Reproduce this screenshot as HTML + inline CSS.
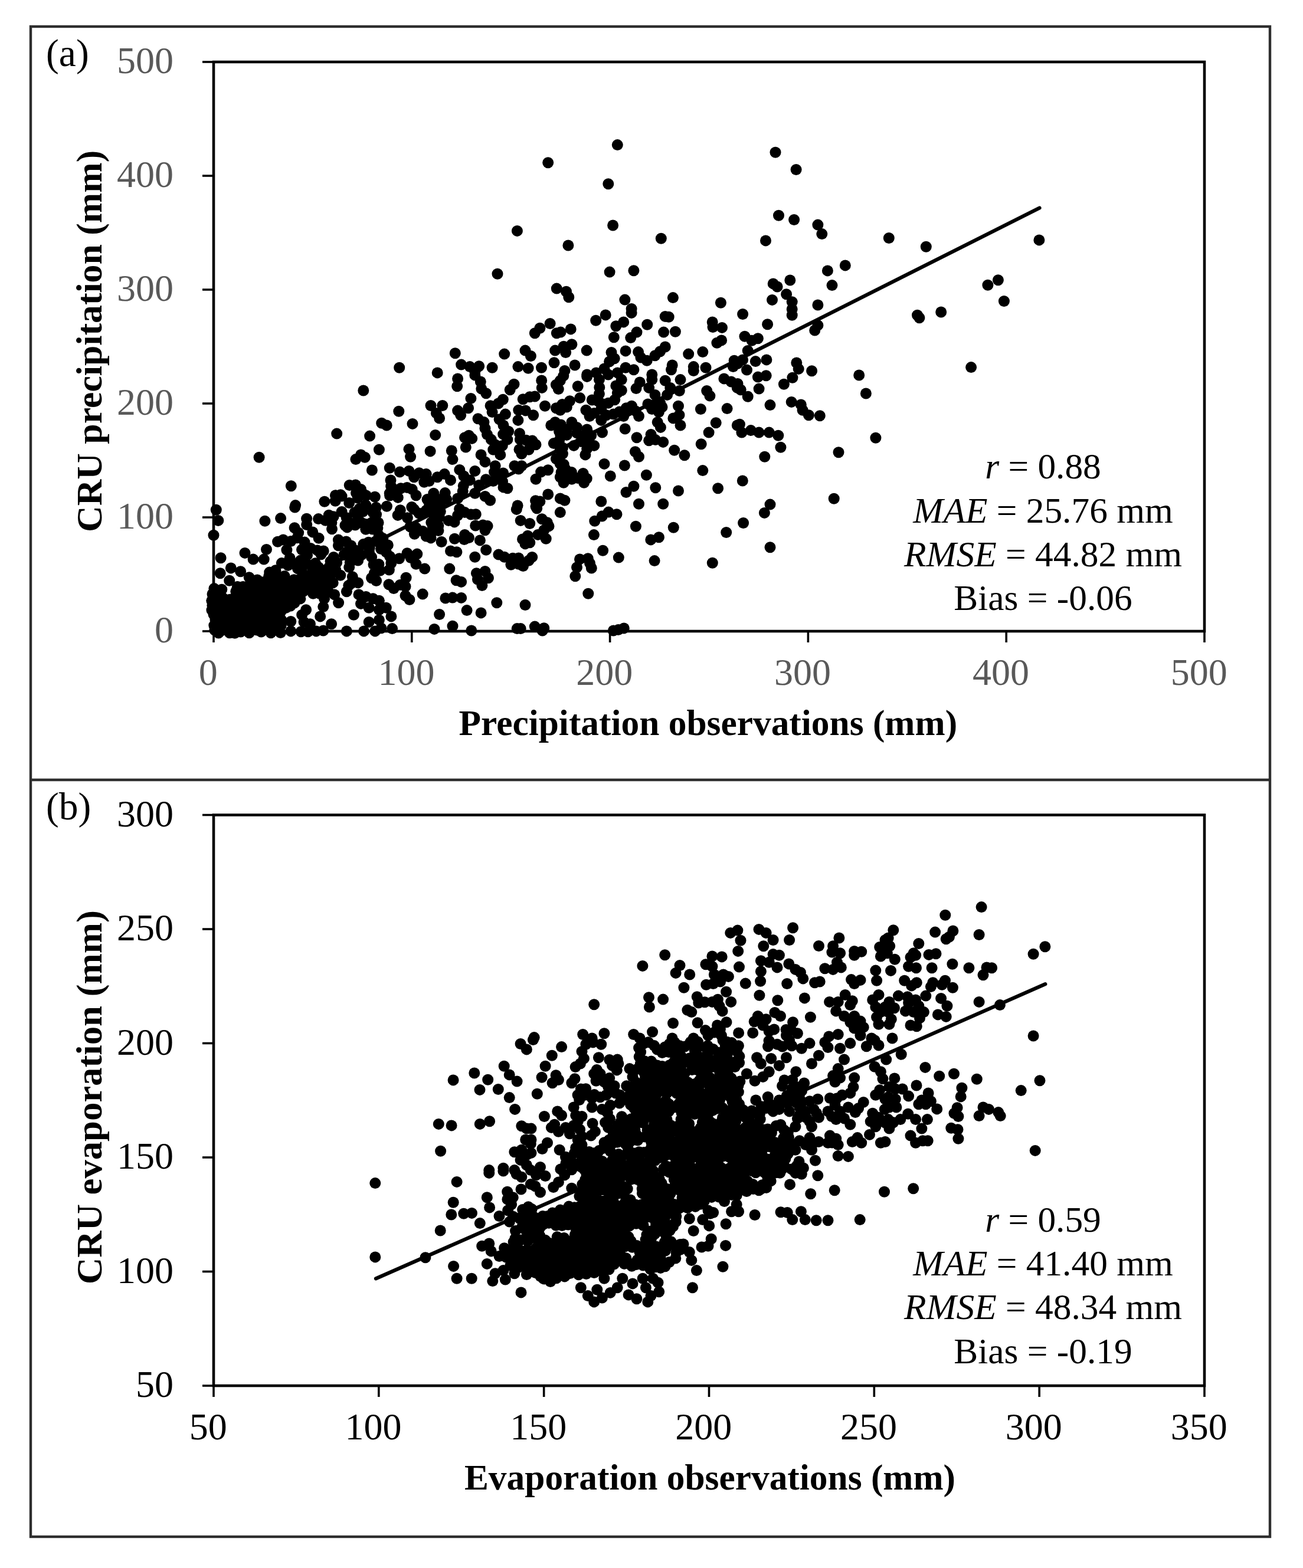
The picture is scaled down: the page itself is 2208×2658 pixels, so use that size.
<!DOCTYPE html>
<html lang="en"><head><meta charset="utf-8"><title>CRU precipitation and evaporation versus observations</title>
<style>html,body{margin:0;padding:0;background:#fff}body{width:2208px;height:2658px;overflow:hidden}svg{display:block}text{font-family:"Liberation Serif", "DejaVu Serif", serif}</style>
</head><body>
<svg width="2208" height="2658" viewBox="0 0 2208 2658">
<rect x="0" y="0" width="2208" height="2658" fill="#fff"/>
<g fill="none" stroke="#2e2e2e" stroke-width="4.4">
<rect x="52" y="45" width="2100" height="2560"/>
<line x1="52" y1="1322" x2="2152" y2="1322"/>
</g>
<g id="panel-a">
<g fill="#000">
<circle cx="366.3" cy="864.3" r="9.5"/><circle cx="369.8" cy="882.4" r="9.5"/><circle cx="362" cy="907.3" r="9.5"/><circle cx="448.9" cy="883.2" r="9.5"/><circle cx="475.6" cy="878.6" r="9.5"/><circle cx="499.7" cy="860" r="9.5"/><circle cx="374.1" cy="945.7" r="9.5"/><circle cx="373.2" cy="971.8" r="9.5"/><circle cx="391.3" cy="962.9" r="9.5"/><circle cx="407.6" cy="968.7" r="9.5"/><circle cx="388.7" cy="984.2" r="9.5"/><circle cx="415" cy="937.4" r="9.5"/><circle cx="429.1" cy="948.1" r="9.5"/><circle cx="451.5" cy="931.4" r="9.5"/><circle cx="447.2" cy="948.1" r="9.5"/><circle cx="422.2" cy="978.7" r="9.5"/><circle cx="436" cy="983" r="9.5"/><circle cx="479.9" cy="915" r="9.5"/><circle cx="492.8" cy="917.6" r="9.5"/><circle cx="485.9" cy="932.2" r="9.5"/><circle cx="491.1" cy="946" r="9.5"/><circle cx="477.3" cy="954.6" r="9.5"/><circle cx="497.9" cy="956.3" r="9.5"/><circle cx="456.7" cy="970.1" r="9.5"/><circle cx="467" cy="966.7" r="9.5"/><circle cx="544.4" cy="997.6" r="9.5"/><circle cx="530.6" cy="1006.2" r="9.5"/><circle cx="556.4" cy="1002.8" r="9.5"/><circle cx="566.7" cy="1007.9" r="9.5"/><circle cx="549.5" cy="1014.8" r="9.5"/><circle cx="573.6" cy="1021.7" r="9.5"/><circle cx="547.8" cy="1028.6" r="9.5"/><circle cx="590.8" cy="992.5" r="9.5"/><circle cx="587.4" cy="1002.8" r="9.5"/><circle cx="608" cy="1007.9" r="9.5"/><circle cx="620.1" cy="1011.4" r="9.5"/><circle cx="632.1" cy="1014.8" r="9.5"/><circle cx="642.4" cy="1018.3" r="9.5"/><circle cx="611.5" cy="1023.4" r="9.5"/><circle cx="625.2" cy="1030.3" r="9.5"/><circle cx="642.4" cy="1033.7" r="9.5"/><circle cx="599.4" cy="1042.3" r="9.5"/><circle cx="625.2" cy="1054.4" r="9.5"/><circle cx="642.4" cy="1050.9" r="9.5"/><circle cx="518.6" cy="1033.7" r="9.5"/><circle cx="511.7" cy="1042.3" r="9.5"/><circle cx="542.7" cy="1044.9" r="9.5"/><circle cx="492.8" cy="1053.5" r="9.5"/><circle cx="515.1" cy="1054.4" r="9.5"/><circle cx="525.5" cy="1057.8" r="9.5"/><circle cx="561.6" cy="1057.8" r="9.5"/><circle cx="492.8" cy="1069.9" r="9.5"/><circle cx="510" cy="1070.7" r="9.5"/><circle cx="522" cy="1070.7" r="9.5"/><circle cx="535.8" cy="1069.9" r="9.5"/><circle cx="547.8" cy="1069" r="9.5"/><circle cx="587.4" cy="1069.9" r="9.5"/><circle cx="616.6" cy="1069.9" r="9.5"/><circle cx="635.6" cy="1069.9" r="9.5"/><circle cx="645.9" cy="1064.7" r="9.5"/><circle cx="362.9" cy="997.6" r="9.5"/><circle cx="375.8" cy="999.3" r="9.5"/><circle cx="401.6" cy="999.3" r="9.5"/><circle cx="664.6" cy="1065.6" r="9.5"/><circle cx="736" cy="1066.4" r="9.5"/><circle cx="767" cy="1061.3" r="9.5"/><circle cx="798.8" cy="1069" r="9.5"/><circle cx="876.2" cy="1065.6" r="9.5"/><circle cx="882.2" cy="1065.6" r="9.5"/><circle cx="906.3" cy="1062.1" r="9.5"/><circle cx="921.8" cy="1064.7" r="9.5"/><circle cx="919.2" cy="1069" r="9.5"/><circle cx="744.6" cy="1041.5" r="9.5"/><circle cx="791.1" cy="1034.6" r="9.5"/><circle cx="815.1" cy="1038.9" r="9.5"/><circle cx="841.8" cy="1021.7" r="9.5"/><circle cx="890" cy="1025.5" r="9.5"/><circle cx="754.9" cy="1014" r="9.5"/><circle cx="767" cy="1013.1" r="9.5"/><circle cx="781.6" cy="1013.4" r="9.5"/><circle cx="716.2" cy="1007.1" r="9.5"/><circle cx="667.2" cy="997.6" r="9.5"/><circle cx="687" cy="994.2" r="9.5"/><circle cx="687" cy="1009.7" r="9.5"/><circle cx="693.9" cy="1016.5" r="9.5"/><circle cx="654.3" cy="1030.3" r="9.5"/><circle cx="662.9" cy="1044.9" r="9.5"/><circle cx="781.6" cy="986.4" r="9.5"/><circle cx="816.9" cy="992.5" r="9.5"/><circle cx="807.4" cy="971.8" r="9.5"/><circle cx="822" cy="968.4" r="9.5"/><circle cx="761.8" cy="964.1" r="9.5"/><circle cx="719.7" cy="964.1" r="9.5"/><circle cx="804.8" cy="944.3" r="9.5"/><circle cx="823.7" cy="932.2" r="9.5"/><circle cx="813.4" cy="915.9" r="9.5"/><circle cx="805.7" cy="891" r="9.5"/><circle cx="822" cy="898.7" r="9.5"/><circle cx="763.5" cy="934" r="9.5"/><circle cx="773.9" cy="935.7" r="9.5"/><circle cx="770.4" cy="913.3" r="9.5"/><circle cx="787.6" cy="906.4" r="9.5"/><circle cx="794.5" cy="911.6" r="9.5"/><circle cx="748.1" cy="918.5" r="9.5"/><circle cx="742.9" cy="899.6" r="9.5"/><circle cx="722.2" cy="909" r="9.5"/><circle cx="732.6" cy="901.3" r="9.5"/><circle cx="706.8" cy="939.1" r="9.5"/><circle cx="705" cy="956.3" r="9.5"/><circle cx="705" cy="894.4" r="9.5"/><circle cx="710.2" cy="870.3" r="9.5"/><circle cx="722.2" cy="865.2" r="9.5"/><circle cx="736" cy="875.5" r="9.5"/><circle cx="746.3" cy="866.9" r="9.5"/><circle cx="760.1" cy="882.4" r="9.5"/><circle cx="775.6" cy="873.8" r="9.5"/><circle cx="787.6" cy="868.6" r="9.5"/><circle cx="797.9" cy="872" r="9.5"/><circle cx="730.8" cy="885.8" r="9.5"/><circle cx="742.9" cy="891" r="9.5"/><circle cx="701.6" cy="863.4" r="9.5"/><circle cx="854.7" cy="944.3" r="9.5"/><circle cx="865.9" cy="957.2" r="9.5"/><circle cx="878.8" cy="946" r="9.5"/><circle cx="878.8" cy="956.3" r="9.5"/><circle cx="896" cy="950.3" r="9.5"/><circle cx="875.3" cy="863.4" r="9.5"/><circle cx="909.7" cy="861.7" r="9.5"/><circle cx="918.3" cy="879.8" r="9.5"/><circle cx="882.2" cy="882.4" r="9.5"/><circle cx="897.7" cy="887.5" r="9.5"/><circle cx="921.8" cy="898.7" r="9.5"/><circle cx="894.3" cy="908.2" r="9.5"/><circle cx="911.5" cy="906.4" r="9.5"/><circle cx="925.2" cy="913.3" r="9.5"/><circle cx="890" cy="921.9" r="9.5"/><circle cx="949.3" cy="868.6" r="9.5"/><circle cx="615.8" cy="662" r="9.5"/><circle cx="646.7" cy="717.2" r="9.5"/><circle cx="570.7" cy="735.1" r="9.5"/><circle cx="626.6" cy="739.1" r="9.5"/><circle cx="642.4" cy="762.3" r="9.5"/><circle cx="602.9" cy="778.6" r="9.5"/><circle cx="611.5" cy="770.9" r="9.5"/><circle cx="618.3" cy="775.2" r="9.5"/><circle cx="439.1" cy="775.2" r="9.5"/><circle cx="630.4" cy="797" r="9.5"/><circle cx="493.3" cy="823.7" r="9.5"/><circle cx="592.2" cy="822.5" r="9.5"/><circle cx="611.5" cy="829.4" r="9.5"/><circle cx="616.6" cy="838" r="9.5"/><circle cx="568.5" cy="839.7" r="9.5"/><circle cx="577.1" cy="838.8" r="9.5"/><circle cx="775.6" cy="641.9" r="9.5"/><circle cx="774.7" cy="654.8" r="9.5"/><circle cx="804.8" cy="635.9" r="9.5"/><circle cx="814.3" cy="647" r="9.5"/><circle cx="823.7" cy="666.8" r="9.5"/><circle cx="871" cy="651.3" r="9.5"/><circle cx="864.2" cy="660.8" r="9.5"/><circle cx="918.3" cy="657.4" r="9.5"/><circle cx="942.4" cy="652.2" r="9.5"/><circle cx="949.3" cy="645.3" r="9.5"/><circle cx="897.7" cy="672.8" r="9.5"/><circle cx="906.3" cy="672" r="9.5"/><circle cx="923.5" cy="688.3" r="9.5"/><circle cx="942.4" cy="691.8" r="9.5"/><circle cx="949.3" cy="695.2" r="9.5"/><circle cx="797.9" cy="675.4" r="9.5"/><circle cx="793.6" cy="691.8" r="9.5"/><circle cx="775.6" cy="696.1" r="9.5"/><circle cx="780.7" cy="703.8" r="9.5"/><circle cx="730" cy="687.5" r="9.5"/><circle cx="749.8" cy="687.5" r="9.5"/><circle cx="739.4" cy="700.4" r="9.5"/><circle cx="744.6" cy="709" r="9.5"/><circle cx="675.8" cy="697.3" r="9.5"/><circle cx="699" cy="718.4" r="9.5"/><circle cx="655.2" cy="721" r="9.5"/><circle cx="844.4" cy="684" r="9.5"/><circle cx="834.1" cy="698.6" r="9.5"/><circle cx="856.4" cy="702.1" r="9.5"/><circle cx="846.1" cy="710.7" r="9.5"/><circle cx="878.8" cy="695.2" r="9.5"/><circle cx="877.9" cy="712.4" r="9.5"/><circle cx="903.7" cy="703.8" r="9.5"/><circle cx="810" cy="709.8" r="9.5"/><circle cx="822" cy="726.2" r="9.5"/><circle cx="825.5" cy="736.5" r="9.5"/><circle cx="832.3" cy="745.1" r="9.5"/><circle cx="839.2" cy="753.7" r="9.5"/><circle cx="853" cy="721" r="9.5"/><circle cx="861.6" cy="731.3" r="9.5"/><circle cx="859.9" cy="745.1" r="9.5"/><circle cx="851.3" cy="755.4" r="9.5"/><circle cx="880.5" cy="734.8" r="9.5"/><circle cx="881.4" cy="745.1" r="9.5"/><circle cx="737.7" cy="737.4" r="9.5"/><circle cx="787.6" cy="741.7" r="9.5"/><circle cx="799.7" cy="743.4" r="9.5"/><circle cx="794.5" cy="738.2" r="9.5"/><circle cx="789.3" cy="758" r="9.5"/><circle cx="693" cy="761.4" r="9.5"/><circle cx="695.6" cy="774.3" r="9.5"/><circle cx="729.1" cy="764.9" r="9.5"/><circle cx="765.3" cy="764" r="9.5"/><circle cx="767" cy="778.6" r="9.5"/><circle cx="815.1" cy="770.9" r="9.5"/><circle cx="822" cy="782.9" r="9.5"/><circle cx="835.8" cy="762.3" r="9.5"/><circle cx="847.8" cy="770.9" r="9.5"/><circle cx="839.2" cy="789.8" r="9.5"/><circle cx="908" cy="753.7" r="9.5"/><circle cx="896" cy="762.3" r="9.5"/><circle cx="883.9" cy="769.2" r="9.5"/><circle cx="940.7" cy="715.8" r="9.5"/><circle cx="933.8" cy="721" r="9.5"/><circle cx="947.6" cy="731.3" r="9.5"/><circle cx="947.6" cy="746.8" r="9.5"/><circle cx="949.3" cy="762.3" r="9.5"/><circle cx="942.4" cy="777.8" r="9.5"/><circle cx="949.3" cy="786.4" r="9.5"/><circle cx="871.9" cy="789.8" r="9.5"/><circle cx="883.9" cy="789.8" r="9.5"/><circle cx="878.8" cy="795" r="9.5"/><circle cx="928.7" cy="796.7" r="9.5"/><circle cx="916.6" cy="800.1" r="9.5"/><circle cx="908" cy="812.2" r="9.5"/><circle cx="949.3" cy="808.7" r="9.5"/><circle cx="660.3" cy="793.3" r="9.5"/><circle cx="677.5" cy="800.1" r="9.5"/><circle cx="693" cy="798.4" r="9.5"/><circle cx="662" cy="813.9" r="9.5"/><circle cx="701.6" cy="808.7" r="9.5"/><circle cx="722.2" cy="803.6" r="9.5"/><circle cx="718.8" cy="817.3" r="9.5"/><circle cx="741.2" cy="808.7" r="9.5"/><circle cx="753.2" cy="803.6" r="9.5"/><circle cx="763.5" cy="813.9" r="9.5"/><circle cx="785.9" cy="807" r="9.5"/><circle cx="804.8" cy="798.4" r="9.5"/><circle cx="796.2" cy="813.9" r="9.5"/><circle cx="811.7" cy="822.5" r="9.5"/><circle cx="837.5" cy="800.1" r="9.5"/><circle cx="835.8" cy="815.6" r="9.5"/><circle cx="846.1" cy="807" r="9.5"/><circle cx="853" cy="825.9" r="9.5"/><circle cx="859.9" cy="827.7" r="9.5"/><circle cx="660.3" cy="836.3" r="9.5"/><circle cx="679.2" cy="827.7" r="9.5"/><circle cx="698.2" cy="829.4" r="9.5"/><circle cx="705" cy="839.7" r="9.5"/><circle cx="724" cy="846.6" r="9.5"/><circle cx="739.4" cy="844.9" r="9.5"/><circle cx="756.7" cy="846.6" r="9.5"/><circle cx="727.4" cy="856.9" r="9.5"/><circle cx="746.3" cy="856.9" r="9.5"/><circle cx="784.2" cy="832.8" r="9.5"/><circle cx="775.6" cy="844.9" r="9.5"/><circle cx="804.8" cy="836.3" r="9.5"/><circle cx="822" cy="841.4" r="9.5"/><circle cx="830.6" cy="848.3" r="9.5"/><circle cx="877.1" cy="856.9" r="9.5"/><circle cx="928.7" cy="838" r="9.5"/><circle cx="914.9" cy="850" r="9.5"/><circle cx="908" cy="858.6" r="9.5"/><circle cx="949.3" cy="844.9" r="9.5"/><circle cx="1197.7" cy="662.5" r="9.5"/><circle cx="1202.9" cy="671.1" r="9.5"/><circle cx="1226.9" cy="641.9" r="9.5"/><circle cx="1239" cy="647" r="9.5"/><circle cx="1249.3" cy="657.4" r="9.5"/><circle cx="1187.4" cy="693.5" r="9.5"/><circle cx="1232.1" cy="692.6" r="9.5"/><circle cx="1149.5" cy="688.3" r="9.5"/><circle cx="1140.9" cy="709" r="9.5"/><circle cx="1153" cy="721" r="9.5"/><circle cx="1213.2" cy="716.7" r="9.5"/><circle cx="1201.1" cy="733.1" r="9.5"/><circle cx="1188.2" cy="752.8" r="9.5"/><circle cx="1249.3" cy="721" r="9.5"/><circle cx="1119.4" cy="724.4" r="9.5"/><circle cx="1103.1" cy="736.5" r="9.5"/><circle cx="1099.7" cy="746.8" r="9.5"/><circle cx="1123.7" cy="749.4" r="9.5"/><circle cx="1142.7" cy="763.2" r="9.5"/><circle cx="1159.9" cy="771.8" r="9.5"/><circle cx="1059.2" cy="727" r="9.5"/><circle cx="1079" cy="741.7" r="9.5"/><circle cx="1076.4" cy="765.7" r="9.5"/><circle cx="1082.5" cy="774.3" r="9.5"/><circle cx="1024" cy="786.4" r="9.5"/><circle cx="1058.4" cy="789" r="9.5"/><circle cx="1034.3" cy="807" r="9.5"/><circle cx="1095.4" cy="805.3" r="9.5"/><circle cx="1190.8" cy="797.6" r="9.5"/><circle cx="1110.8" cy="826.8" r="9.5"/><circle cx="1149.5" cy="832" r="9.5"/><circle cx="1216.6" cy="827.7" r="9.5"/><circle cx="1073.9" cy="824.2" r="9.5"/><circle cx="1061" cy="834.5" r="9.5"/><circle cx="1018.8" cy="850" r="9.5"/><circle cx="1082.5" cy="854.3" r="9.5"/><circle cx="1123.7" cy="854.3" r="9.5"/><circle cx="956.9" cy="848.3" r="9.5"/><circle cx="953.4" cy="808.7" r="9.5"/><circle cx="968.9" cy="812.2" r="9.5"/><circle cx="979.2" cy="810.5" r="9.5"/><circle cx="989.6" cy="818.2" r="9.5"/><circle cx="955.2" cy="787.2" r="9.5"/><circle cx="953.4" cy="769.2" r="9.5"/><circle cx="1084.2" cy="647.9" r="9.5"/><circle cx="979.2" cy="654.8" r="9.5"/><circle cx="994.7" cy="638.4" r="9.5"/><circle cx="1015.4" cy="643.6" r="9.5"/><circle cx="1030.8" cy="635" r="9.5"/><circle cx="1043.8" cy="653.9" r="9.5"/><circle cx="1053.2" cy="643.6" r="9.5"/><circle cx="1046.3" cy="666" r="9.5"/><circle cx="1015.4" cy="667.7" r="9.5"/><circle cx="1003.3" cy="678" r="9.5"/><circle cx="982.7" cy="674.6" r="9.5"/><circle cx="965.5" cy="679.7" r="9.5"/><circle cx="960.3" cy="690" r="9.5"/><circle cx="1030.8" cy="683.2" r="9.5"/><circle cx="1018.8" cy="693.5" r="9.5"/><circle cx="1006.8" cy="700.4" r="9.5"/><circle cx="993" cy="695.2" r="9.5"/><circle cx="1027.4" cy="703.8" r="9.5"/><circle cx="1039.4" cy="702.1" r="9.5"/><circle cx="1018.8" cy="712.4" r="9.5"/><circle cx="1056.7" cy="705.5" r="9.5"/><circle cx="1070.4" cy="688.3" r="9.5"/><circle cx="1082.5" cy="705.5" r="9.5"/><circle cx="1077.3" cy="696.9" r="9.5"/><circle cx="1097.9" cy="684.9" r="9.5"/><circle cx="1104.8" cy="693.5" r="9.5"/><circle cx="1099.7" cy="657.4" r="9.5"/><circle cx="1104.8" cy="643.6" r="9.5"/><circle cx="1110" cy="669.4" r="9.5"/><circle cx="1118.6" cy="683.2" r="9.5"/><circle cx="1122" cy="690" r="9.5"/><circle cx="1127.2" cy="645.3" r="9.5"/><circle cx="1135.8" cy="657.4" r="9.5"/><circle cx="1130.6" cy="669.4" r="9.5"/><circle cx="1153" cy="643.6" r="9.5"/><circle cx="1151.3" cy="662.5" r="9.5"/><circle cx="968.9" cy="715.8" r="9.5"/><circle cx="977.5" cy="724.4" r="9.5"/><circle cx="960.3" cy="727.9" r="9.5"/><circle cx="994.7" cy="727.9" r="9.5"/><circle cx="1001.6" cy="738.2" r="9.5"/><circle cx="1020.5" cy="733.1" r="9.5"/><circle cx="984.4" cy="748.5" r="9.5"/><circle cx="994.7" cy="760.6" r="9.5"/><circle cx="1006.8" cy="755.4" r="9.5"/><circle cx="972.4" cy="755.4" r="9.5"/><circle cx="950" cy="738.2" r="9.5"/><circle cx="953.4" cy="758.9" r="9.5"/><circle cx="843" cy="464.2" r="9.5"/><circle cx="943.3" cy="489.1" r="9.5"/><circle cx="932.1" cy="548.5" r="9.5"/><circle cx="914.9" cy="556.2" r="9.5"/><circle cx="906.3" cy="564.8" r="9.5"/><circle cx="943.3" cy="564.8" r="9.5"/><circle cx="771.3" cy="598.7" r="9.5"/><circle cx="854.7" cy="600.1" r="9.5"/><circle cx="890" cy="594.1" r="9.5"/><circle cx="899.4" cy="603.5" r="9.5"/><circle cx="940.7" cy="594.1" r="9.5"/><circle cx="939" cy="614.7" r="9.5"/><circle cx="676.7" cy="623.3" r="9.5"/><circle cx="741.2" cy="631.9" r="9.5"/><circle cx="781.6" cy="618.1" r="9.5"/><circle cx="796.2" cy="621.6" r="9.5"/><circle cx="811.7" cy="620.7" r="9.5"/><circle cx="804.8" cy="630.2" r="9.5"/><circle cx="834.1" cy="623.3" r="9.5"/><circle cx="877.9" cy="621.6" r="9.5"/><circle cx="895.1" cy="624.2" r="9.5"/><circle cx="917.5" cy="623.3" r="9.5"/><circle cx="962.9" cy="416" r="9.5"/><circle cx="1033.1" cy="461.1" r="9.5"/><circle cx="1073.9" cy="458.7" r="9.5"/><circle cx="959.5" cy="494.3" r="9.5"/><circle cx="963.8" cy="503.8" r="9.5"/><circle cx="1058.9" cy="508.1" r="9.5"/><circle cx="1070.1" cy="523.5" r="9.5"/><circle cx="1070.1" cy="530.4" r="9.5"/><circle cx="1140.4" cy="504.6" r="9.5"/><circle cx="1221.4" cy="513.2" r="9.5"/><circle cx="1026.2" cy="533.9" r="9.5"/><circle cx="1009.7" cy="543.3" r="9.5"/><circle cx="1056.7" cy="545.9" r="9.5"/><circle cx="1043.8" cy="552.8" r="9.5"/><circle cx="1127.2" cy="536.4" r="9.5"/><circle cx="1133.2" cy="537.3" r="9.5"/><circle cx="1096.7" cy="550.2" r="9.5"/><circle cx="1124.6" cy="563.1" r="9.5"/><circle cx="1144.4" cy="562.2" r="9.5"/><circle cx="1207.2" cy="545.9" r="9.5"/><circle cx="1208" cy="554.5" r="9.5"/><circle cx="1223.5" cy="555.4" r="9.5"/><circle cx="967.2" cy="557.9" r="9.5"/><circle cx="1040.3" cy="571.7" r="9.5"/><circle cx="1079" cy="563.1" r="9.5"/><circle cx="1068.7" cy="572.6" r="9.5"/><circle cx="1222.6" cy="576.9" r="9.5"/><circle cx="1214.9" cy="581.2" r="9.5"/><circle cx="950" cy="563.1" r="9.5"/><circle cx="955.2" cy="587.2" r="9.5"/><circle cx="968.9" cy="583.7" r="9.5"/><circle cx="958.6" cy="597.5" r="9.5"/><circle cx="994.2" cy="594.1" r="9.5"/><circle cx="1060.1" cy="594.9" r="9.5"/><circle cx="1036" cy="597.5" r="9.5"/><circle cx="1041.2" cy="607.8" r="9.5"/><circle cx="1032.6" cy="613" r="9.5"/><circle cx="1081.6" cy="596.6" r="9.5"/><circle cx="1085.9" cy="606.1" r="9.5"/><circle cx="1096.2" cy="611.3" r="9.5"/><circle cx="1127.2" cy="588" r="9.5"/><circle cx="1118.6" cy="595.8" r="9.5"/><circle cx="1110" cy="602.7" r="9.5"/><circle cx="1166.7" cy="600.1" r="9.5"/><circle cx="1190.8" cy="596.6" r="9.5"/><circle cx="974.1" cy="619" r="9.5"/><circle cx="956.9" cy="628.5" r="9.5"/><circle cx="1010.2" cy="631.9" r="9.5"/><circle cx="1024" cy="625" r="9.5"/><circle cx="994.7" cy="635" r="9.5"/><circle cx="1060.1" cy="623.3" r="9.5"/><circle cx="1073.9" cy="626.7" r="9.5"/><circle cx="1046.3" cy="631.9" r="9.5"/><circle cx="1104.8" cy="635" r="9.5"/><circle cx="1139.2" cy="619" r="9.5"/><circle cx="1137.5" cy="626.7" r="9.5"/><circle cx="1175.3" cy="621.6" r="9.5"/><circle cx="1175.3" cy="628.5" r="9.5"/><circle cx="1196" cy="623.3" r="9.5"/><circle cx="1244.2" cy="611.3" r="9.5"/><circle cx="1250" cy="616.4" r="9.5"/><circle cx="1242.4" cy="621.6" r="9.5"/><circle cx="1045" cy="871.7" r="9.5"/><circle cx="1031.2" cy="868.1" r="9.5"/><circle cx="1020.2" cy="875" r="9.5"/><circle cx="1007.8" cy="883.2" r="9.5"/><circle cx="1006.4" cy="906.6" r="9.5"/><circle cx="1077.4" cy="892.3" r="9.5"/><circle cx="1141.3" cy="894.2" r="9.5"/><circle cx="1116.5" cy="910.7" r="9.5"/><circle cx="1102.8" cy="914.9" r="9.5"/><circle cx="1230.7" cy="902.5" r="9.5"/><circle cx="1259.6" cy="886.5" r="9.5"/><circle cx="1295.4" cy="869.4" r="9.5"/><circle cx="1305" cy="855.1" r="9.5"/><circle cx="1305" cy="927.8" r="9.5"/><circle cx="1021.6" cy="933.3" r="9.5"/><circle cx="1048.3" cy="945.1" r="9.5"/><circle cx="1109.1" cy="950.6" r="9.5"/><circle cx="1207.3" cy="954.2" r="9.5"/><circle cx="982.5" cy="947.9" r="9.5"/><circle cx="977.5" cy="961.7" r="9.5"/><circle cx="974.8" cy="976.8" r="9.5"/><circle cx="999.5" cy="954.8" r="9.5"/><circle cx="1002.3" cy="963" r="9.5"/><circle cx="996.8" cy="1006.2" r="9.5"/><circle cx="1039.4" cy="1069" r="9.5"/><circle cx="1047.7" cy="1067.6" r="9.5"/><circle cx="1057.3" cy="1064.9" r="9.5"/><circle cx="1413.2" cy="845.2" r="9.5"/><circle cx="1258.3" cy="815" r="9.5"/><circle cx="1467.4" cy="667" r="9.5"/><circle cx="1455.7" cy="636" r="9.5"/><circle cx="1342.9" cy="640.2" r="9.5"/><circle cx="1328.4" cy="651.2" r="9.5"/><circle cx="1284.4" cy="639.1" r="9.5"/><circle cx="1298.2" cy="636.7" r="9.5"/><circle cx="1286.1" cy="659.1" r="9.5"/><circle cx="1250" cy="650.5" r="9.5"/><circle cx="1255.2" cy="660.8" r="9.5"/><circle cx="1267.2" cy="672.2" r="9.5"/><circle cx="1305" cy="686.6" r="9.5"/><circle cx="1341.2" cy="681.4" r="9.5"/><circle cx="1357.3" cy="685.9" r="9.5"/><circle cx="1360.1" cy="695.2" r="9.5"/><circle cx="1370.4" cy="703.8" r="9.5"/><circle cx="1389.3" cy="704.8" r="9.5"/><circle cx="1253.4" cy="719.3" r="9.5"/><circle cx="1256.9" cy="733.1" r="9.5"/><circle cx="1272.4" cy="729.6" r="9.5"/><circle cx="1286.1" cy="733.1" r="9.5"/><circle cx="1303.3" cy="733.1" r="9.5"/><circle cx="1318.8" cy="738.2" r="9.5"/><circle cx="1322.9" cy="758.2" r="9.5"/><circle cx="1295.8" cy="774.3" r="9.5"/><circle cx="1421" cy="766.8" r="9.5"/><circle cx="1483.9" cy="742.3" r="9.5"/><circle cx="1314" cy="258.3" r="9.5"/><circle cx="1349.1" cy="287.5" r="9.5"/><circle cx="1319.5" cy="365.3" r="9.5"/><circle cx="1345.6" cy="372.5" r="9.5"/><circle cx="1385.9" cy="381.1" r="9.5"/><circle cx="1392.8" cy="396.6" r="9.5"/><circle cx="1297.5" cy="407.9" r="9.5"/><circle cx="1506.3" cy="403.5" r="9.5"/><circle cx="1569.3" cy="418.3" r="9.5"/><circle cx="1760.9" cy="406.9" r="9.5"/><circle cx="1432.3" cy="449.9" r="9.5"/><circle cx="1402.4" cy="458.9" r="9.5"/><circle cx="1410" cy="483.6" r="9.5"/><circle cx="1338.8" cy="475" r="9.5"/><circle cx="1310.2" cy="480.9" r="9.5"/><circle cx="1317.1" cy="486" r="9.5"/><circle cx="1332.6" cy="498.8" r="9.5"/><circle cx="1308.5" cy="508.4" r="9.5"/><circle cx="1342.2" cy="511.8" r="9.5"/><circle cx="1342.2" cy="523.9" r="9.5"/><circle cx="1342.2" cy="534.2" r="9.5"/><circle cx="1385.9" cy="517" r="9.5"/><circle cx="1691.4" cy="474.7" r="9.5"/><circle cx="1673.9" cy="483.3" r="9.5"/><circle cx="1701.4" cy="510.5" r="9.5"/><circle cx="1594.7" cy="529" r="9.5"/><circle cx="1554.5" cy="534.2" r="9.5"/><circle cx="1557.9" cy="538.7" r="9.5"/><circle cx="1258.6" cy="532.5" r="9.5"/><circle cx="1300.6" cy="549.7" r="9.5"/><circle cx="1385.9" cy="551.4" r="9.5"/><circle cx="1380.7" cy="560" r="9.5"/><circle cx="1262" cy="570.3" r="9.5"/><circle cx="1284.4" cy="573.8" r="9.5"/><circle cx="1274.1" cy="577.2" r="9.5"/><circle cx="1267.2" cy="594.4" r="9.5"/><circle cx="1280.3" cy="612.6" r="9.5"/><circle cx="1298.9" cy="609.9" r="9.5"/><circle cx="1349.8" cy="615" r="9.5"/><circle cx="1353.2" cy="625.4" r="9.5"/><circle cx="1375.6" cy="628.8" r="9.5"/><circle cx="1645.6" cy="622.6" r="9.5"/><circle cx="1258.6" cy="609.9" r="9.5"/><circle cx="1265.5" cy="627.1" r="9.5"/><circle cx="1046.3" cy="245.6" r="9.5"/><circle cx="1030.8" cy="311.8" r="9.5"/><circle cx="1038.6" cy="382" r="9.5"/><circle cx="1120.3" cy="404.3" r="9.5"/><circle cx="928.7" cy="275.8" r="9.5"/><circle cx="876.4" cy="391.4" r="9.5"/><circle cx="500.6" cy="856.6" r="9.5"/><circle cx="549.9" cy="850.3" r="9.5"/><circle cx="568.8" cy="840" r="9.5"/><circle cx="579.1" cy="841.1" r="9.5"/><circle cx="591.7" cy="852.6" r="9.5"/><circle cx="619.8" cy="856.1" r="9.5"/><circle cx="620.4" cy="840" r="9.5"/><circle cx="635.3" cy="842.3" r="9.5"/><circle cx="655.4" cy="858.3" r="9.5"/><circle cx="660.6" cy="840" r="9.5"/><circle cx="674.3" cy="843.4" r="9.5"/><circle cx="678.3" cy="864.7" r="9.5"/><circle cx="697.8" cy="859.5" r="9.5"/><circle cx="690.4" cy="877.8" r="9.5"/><circle cx="695" cy="892.8" r="9.5"/><circle cx="539.6" cy="879.6" r="9.5"/><circle cx="557.3" cy="873.3" r="9.5"/><circle cx="561.9" cy="885.9" r="9.5"/><circle cx="519.7" cy="889.5" r="9.5"/><circle cx="579.1" cy="867.5" r="9.5"/><circle cx="587.2" cy="877.8" r="9.5"/><circle cx="584.9" cy="890.5" r="9.5"/><circle cx="600.9" cy="868.7" r="9.5"/><circle cx="606.7" cy="881.3" r="9.5"/><circle cx="618.1" cy="888.2" r="9.5"/><circle cx="637.6" cy="872.1" r="9.5"/><circle cx="641.1" cy="885.9" r="9.5"/><circle cx="614.7" cy="867.5" r="9.5"/><circle cx="631.9" cy="868.7" r="9.5"/><circle cx="612.4" cy="885.9" r="9.5"/><circle cx="629.6" cy="885.9" r="9.5"/><circle cx="562.5" cy="896.8" r="9.5"/><circle cx="588.3" cy="893.9" r="9.5"/><circle cx="619.8" cy="897.3" r="9.5"/><circle cx="639.9" cy="895" r="9.5"/><circle cx="642.2" cy="907.7" r="9.5"/><circle cx="647.9" cy="919.1" r="9.5"/><circle cx="645.6" cy="930.6" r="9.5"/><circle cx="505.7" cy="903.1" r="9.5"/><circle cx="529.8" cy="901.9" r="9.5"/><circle cx="540.1" cy="912.2" r="9.5"/><circle cx="516.1" cy="919.1" r="9.5"/><circle cx="511.5" cy="931.7" r="9.5"/><circle cx="526.4" cy="929.4" r="9.5"/><circle cx="520.6" cy="940.9" r="9.5"/><circle cx="573.4" cy="915.1" r="9.5"/><circle cx="586.6" cy="918" r="9.5"/><circle cx="615.8" cy="922.6" r="9.5"/><circle cx="548.2" cy="934" r="9.5"/><circle cx="537.8" cy="932.9" r="9.5"/><circle cx="565.4" cy="944.4" r="9.5"/><circle cx="588.3" cy="935.2" r="9.5"/><circle cx="600.9" cy="936.3" r="9.5"/><circle cx="612.4" cy="940.9" r="9.5"/><circle cx="594" cy="946.7" r="9.5"/><circle cx="606.7" cy="950.1" r="9.5"/><circle cx="629.6" cy="944.4" r="9.5"/><circle cx="633" cy="957" r="9.5"/><circle cx="660.6" cy="943.2" r="9.5"/><circle cx="662.8" cy="954.7" r="9.5"/><circle cx="676.6" cy="946.7" r="9.5"/><circle cx="696.1" cy="945.5" r="9.5"/><circle cx="659.4" cy="966.1" r="9.5"/><circle cx="688.1" cy="979.3" r="9.5"/><circle cx="634.2" cy="971.9" r="9.5"/><circle cx="637.6" cy="984.5" r="9.5"/><circle cx="591.7" cy="961.6" r="9.5"/><circle cx="595.2" cy="989.1" r="9.5"/><circle cx="606.7" cy="987.9" r="9.5"/><circle cx="557.3" cy="961.6" r="9.5"/><circle cx="568.8" cy="966.1" r="9.5"/><circle cx="576.8" cy="975.3" r="9.5"/><circle cx="559.6" cy="975.3" r="9.5"/><circle cx="549.3" cy="969.6" r="9.5"/><circle cx="534.4" cy="954.7" r="9.5"/><circle cx="529.8" cy="966.1" r="9.5"/><circle cx="509.2" cy="950.1" r="9.5"/><circle cx="504.6" cy="963.9" r="9.5"/><circle cx="511.5" cy="968.4" r="9.5"/><circle cx="509.2" cy="981.1" r="9.5"/><circle cx="532.1" cy="987.9" r="9.5"/><circle cx="545.9" cy="983.3" r="9.5"/><circle cx="564.2" cy="987.9" r="9.5"/><circle cx="504.7" cy="988.9" r="9.5"/><circle cx="514.7" cy="975.3" r="9.5"/><circle cx="529" cy="973.6" r="9.5"/><circle cx="536.1" cy="971.2" r="9.5"/><circle cx="550.3" cy="966.9" r="9.5"/><circle cx="560.8" cy="959.2" r="9.5"/><circle cx="570.6" cy="953.7" r="9.5"/><circle cx="583.1" cy="940.4" r="9.5"/><circle cx="593.5" cy="945.3" r="9.5"/><circle cx="604.8" cy="933.4" r="9.5"/><circle cx="624.5" cy="919.3" r="9.5"/><circle cx="636.8" cy="917.4" r="9.5"/><circle cx="648.9" cy="912.6" r="9.5"/><circle cx="470.6" cy="918.3" r="9.5"/><circle cx="503.8" cy="911.8" r="9.5"/><circle cx="488" cy="958.4" r="9.5"/><circle cx="541.7" cy="1006.3" r="9.5"/><circle cx="551.8" cy="995" r="9.5"/><circle cx="658.9" cy="990.7" r="9.5"/><circle cx="678" cy="991.5" r="9.5"/><circle cx="773.1" cy="983.7" r="9.5"/><circle cx="809.5" cy="982.3" r="9.5"/><circle cx="827.5" cy="979.7" r="9.5"/><circle cx="818.4" cy="889.9" r="9.5"/><circle cx="826.1" cy="891.6" r="9.5"/><circle cx="786.7" cy="914.5" r="9.5"/><circle cx="716.3" cy="900.4" r="9.5"/><circle cx="730.1" cy="911.9" r="9.5"/><circle cx="702.4" cy="905.3" r="9.5"/><circle cx="744.4" cy="876.5" r="9.5"/><circle cx="770" cy="884.9" r="9.5"/><circle cx="778.6" cy="862.7" r="9.5"/><circle cx="806.3" cy="871.7" r="9.5"/><circle cx="733.4" cy="894.1" r="9.5"/><circle cx="844.9" cy="940.1" r="9.5"/><circle cx="869" cy="946.2" r="9.5"/><circle cx="886.5" cy="959.6" r="9.5"/><circle cx="901.7" cy="944.4" r="9.5"/><circle cx="927.3" cy="885.8" r="9.5"/><circle cx="930" cy="891.9" r="9.5"/><circle cx="897.8" cy="919.8" r="9.5"/><circle cx="885.5" cy="914" r="9.5"/><circle cx="602.5" cy="822" r="9.5"/><circle cx="603.5" cy="835.7" r="9.5"/><circle cx="606.3" cy="844.3" r="9.5"/><circle cx="815.8" cy="659" r="9.5"/><circle cx="917.7" cy="644.9" r="9.5"/><circle cx="946.3" cy="659.6" r="9.5"/><circle cx="954.8" cy="637.1" r="9.5"/><circle cx="886.2" cy="676.8" r="9.5"/><circle cx="952.8" cy="685.4" r="9.5"/><circle cx="852.3" cy="677.3" r="9.5"/><circle cx="831.1" cy="687.8" r="9.5"/><circle cx="890.5" cy="695.9" r="9.5"/><circle cx="820" cy="715.6" r="9.5"/><circle cx="852.7" cy="736.1" r="9.5"/><circle cx="891.6" cy="746.2" r="9.5"/><circle cx="902" cy="747.1" r="9.5"/><circle cx="880" cy="761.9" r="9.5"/><circle cx="950.4" cy="719.9" r="9.5"/><circle cx="938.3" cy="751.6" r="9.5"/><circle cx="951.1" cy="800.7" r="9.5"/><circle cx="710.3" cy="801.8" r="9.5"/><circle cx="727.2" cy="815.6" r="9.5"/><circle cx="778.8" cy="796.4" r="9.5"/><circle cx="823.4" cy="812.8" r="9.5"/><circle cx="852.7" cy="801.9" r="9.5"/><circle cx="851.5" cy="816.2" r="9.5"/><circle cx="662.7" cy="824.2" r="9.5"/><circle cx="689.7" cy="826.4" r="9.5"/><circle cx="734.8" cy="836.3" r="9.5"/><circle cx="754.2" cy="835.6" r="9.5"/><circle cx="734.6" cy="861.1" r="9.5"/><circle cx="785.3" cy="823.6" r="9.5"/><circle cx="907.5" cy="848.8" r="9.5"/><circle cx="1151" cy="703.4" r="9.5"/><circle cx="1114.2" cy="715.7" r="9.5"/><circle cx="1110.7" cy="745.6" r="9.5"/><circle cx="955.1" cy="818.2" r="9.5"/><circle cx="968.4" cy="800.5" r="9.5"/><circle cx="988.1" cy="802.5" r="9.5"/><circle cx="994.2" cy="811.2" r="9.5"/><circle cx="958.3" cy="795.4" r="9.5"/><circle cx="1078" cy="658.6" r="9.5"/><circle cx="1053.3" cy="661.8" r="9.5"/><circle cx="1015.8" cy="656.7" r="9.5"/><circle cx="1013.9" cy="680.3" r="9.5"/><circle cx="1041.7" cy="677.8" r="9.5"/><circle cx="1022.4" cy="685.1" r="9.5"/><circle cx="999" cy="705.6" r="9.5"/><circle cx="1049.5" cy="698.1" r="9.5"/><circle cx="1061.2" cy="691.8" r="9.5"/><circle cx="1116.4" cy="698.6" r="9.5"/><circle cx="1108.7" cy="686" r="9.5"/><circle cx="977.7" cy="734.1" r="9.5"/><circle cx="960.4" cy="737.4" r="9.5"/><circle cx="990.3" cy="739.3" r="9.5"/><circle cx="991.9" cy="770.9" r="9.5"/><circle cx="997.1" cy="747.8" r="9.5"/><circle cx="996.3" cy="946.7" r="9.5"/><circle cx="568.2" cy="849.2" r="9.5"/><circle cx="670" cy="835.6" r="9.5"/><circle cx="674.1" cy="873.4" r="9.5"/><circle cx="551.5" cy="882.3" r="9.5"/><circle cx="565.1" cy="875.7" r="9.5"/><circle cx="519.6" cy="879.3" r="9.5"/><circle cx="609.2" cy="862.3" r="9.5"/><circle cx="637.3" cy="860.3" r="9.5"/><circle cx="601.9" cy="890.1" r="9.5"/><circle cx="592.2" cy="885.8" r="9.5"/><circle cx="631.1" cy="897.1" r="9.5"/><circle cx="657.3" cy="923.9" r="9.5"/><circle cx="654.3" cy="935.8" r="9.5"/><circle cx="499.1" cy="894.8" r="9.5"/><circle cx="518.5" cy="930.9" r="9.5"/><circle cx="573.4" cy="924.7" r="9.5"/><circle cx="594.9" cy="924.9" r="9.5"/><circle cx="544" cy="939.7" r="9.5"/><circle cx="625.4" cy="936.3" r="9.5"/><circle cx="641.9" cy="956.4" r="9.5"/><circle cx="690" cy="937.7" r="9.5"/><circle cx="644" cy="967.2" r="9.5"/><circle cx="629.6" cy="979.8" r="9.5"/><circle cx="597.3" cy="977.7" r="9.5"/><circle cx="560" cy="951.6" r="9.5"/><circle cx="552.9" cy="979.9" r="9.5"/><circle cx="519.9" cy="955.6" r="9.5"/><circle cx="527.2" cy="997.7" r="9.5"/><circle cx="498.1" cy="982.8" r="9.5"/><circle cx="522.8" cy="984.7" r="9.5"/><circle cx="540.2" cy="979.6" r="9.5"/><circle cx="539.7" cy="961.4" r="9.5"/><circle cx="593.3" cy="953.5" r="9.5"/><circle cx="626.2" cy="928.7" r="9.5"/><circle cx="419.8" cy="1021.1" r="9.5"/><circle cx="401.7" cy="1066.2" r="9.5"/><circle cx="435.8" cy="1003.6" r="9.5"/><circle cx="506.3" cy="1000.7" r="9.5"/><circle cx="406.6" cy="1039" r="9.5"/><circle cx="417.4" cy="1065.7" r="9.5"/><circle cx="464.6" cy="1024.9" r="9.5"/><circle cx="473.7" cy="1005.4" r="9.5"/><circle cx="449.3" cy="1020.9" r="9.5"/><circle cx="490" cy="1001.6" r="9.5"/><circle cx="498.2" cy="987.1" r="9.5"/><circle cx="428.6" cy="1056.1" r="9.5"/><circle cx="358.8" cy="1018.2" r="9.5"/><circle cx="476.5" cy="1050.5" r="9.5"/><circle cx="386.3" cy="1040.9" r="9.5"/><circle cx="362" cy="1041.5" r="9.5"/><circle cx="489.7" cy="1019.1" r="9.5"/><circle cx="391.2" cy="1030.7" r="9.5"/><circle cx="369.2" cy="1014.5" r="9.5"/><circle cx="446" cy="1036.6" r="9.5"/><circle cx="421.1" cy="1042.1" r="9.5"/><circle cx="470.8" cy="988" r="9.5"/><circle cx="498.9" cy="1022" r="9.5"/><circle cx="411.9" cy="994.4" r="9.5"/><circle cx="435.3" cy="1068.1" r="9.5"/><circle cx="479.4" cy="1015.4" r="9.5"/><circle cx="437.9" cy="1059.6" r="9.5"/><circle cx="456.5" cy="1061.7" r="9.5"/><circle cx="388.6" cy="1065.3" r="9.5"/><circle cx="399" cy="1020.3" r="9.5"/><circle cx="476.1" cy="1036.5" r="9.5"/><circle cx="394" cy="1053" r="9.5"/><circle cx="363.9" cy="1068.2" r="9.5"/><circle cx="468.2" cy="1068.2" r="9.5"/><circle cx="489.9" cy="986.7" r="9.5"/><circle cx="377.1" cy="1068.3" r="9.5"/><circle cx="514.3" cy="1002.3" r="9.5"/><circle cx="467.2" cy="1017" r="9.5"/><circle cx="423.9" cy="1004.4" r="9.5"/><circle cx="434.9" cy="1019.4" r="9.5"/><circle cx="443.2" cy="995.1" r="9.5"/><circle cx="377.7" cy="1013.6" r="9.5"/><circle cx="488.9" cy="1009.8" r="9.5"/><circle cx="448.4" cy="1058.6" r="9.5"/><circle cx="384" cy="1022.2" r="9.5"/><circle cx="410.5" cy="1025.3" r="9.5"/><circle cx="409.4" cy="1047.1" r="9.5"/><circle cx="466.9" cy="1049" r="9.5"/><circle cx="379.3" cy="1037.2" r="9.5"/><circle cx="508.9" cy="1014.9" r="9.5"/><circle cx="484.2" cy="1030.5" r="9.5"/><circle cx="372.6" cy="1044.4" r="9.5"/><circle cx="464.9" cy="1058.2" r="9.5"/><circle cx="430.1" cy="1029.7" r="9.5"/><circle cx="459.4" cy="988.5" r="9.5"/><circle cx="476.2" cy="1060.2" r="9.5"/><circle cx="460.5" cy="1009.3" r="9.5"/><circle cx="455.7" cy="976.7" r="9.5"/><circle cx="480.1" cy="988.1" r="9.5"/><circle cx="446.2" cy="986.7" r="9.5"/><circle cx="409.3" cy="1012.1" r="9.5"/><circle cx="419.8" cy="995" r="9.5"/><circle cx="452.2" cy="992.9" r="9.5"/><circle cx="413.2" cy="1032.8" r="9.5"/><circle cx="365" cy="1050.8" r="9.5"/><circle cx="469.9" cy="997.1" r="9.5"/><circle cx="442.6" cy="1071.1" r="9.5"/><circle cx="459" cy="1039.1" r="9.5"/><circle cx="393.7" cy="1044.4" r="9.5"/><circle cx="362.8" cy="1060.1" r="9.5"/><circle cx="374" cy="1031.8" r="9.5"/><circle cx="378.4" cy="1052.6" r="9.5"/><circle cx="366.9" cy="1023.4" r="9.5"/><circle cx="432.4" cy="1010.4" r="9.5"/><circle cx="406.9" cy="1057.3" r="9.5"/><circle cx="432.7" cy="993.1" r="9.5"/><circle cx="436.5" cy="1041.6" r="9.5"/><circle cx="449.3" cy="1066.9" r="9.5"/><circle cx="452.1" cy="1009.2" r="9.5"/><circle cx="419.8" cy="1058.3" r="9.5"/><circle cx="457" cy="1019.1" r="9.5"/><circle cx="479.8" cy="998.9" r="9.5"/><circle cx="454.6" cy="1053.5" r="9.5"/><circle cx="441.7" cy="1015.5" r="9.5"/><circle cx="384.9" cy="1058.2" r="9.5"/><circle cx="422.6" cy="1033.1" r="9.5"/><circle cx="473.9" cy="1022.5" r="9.5"/><circle cx="407.9" cy="1071.1" r="9.5"/><circle cx="402.4" cy="994.6" r="9.5"/><circle cx="373.7" cy="1007" r="9.5"/><circle cx="465.9" cy="976.3" r="9.5"/><circle cx="377" cy="1060.4" r="9.5"/><circle cx="418.2" cy="1012.1" r="9.5"/><circle cx="451.8" cy="1042.3" r="9.5"/><circle cx="410.1" cy="1001.8" r="9.5"/><circle cx="438" cy="1027.2" r="9.5"/><circle cx="500.9" cy="1014.4" r="9.5"/><circle cx="467.9" cy="1035.6" r="9.5"/><circle cx="440.4" cy="1050.2" r="9.5"/><circle cx="474.4" cy="977.7" r="9.5"/><circle cx="459.9" cy="1001.5" r="9.5"/><circle cx="403.7" cy="1029.2" r="9.5"/><circle cx="495.2" cy="995.1" r="9.5"/><circle cx="360" cy="1006.9" r="9.5"/><circle cx="515.2" cy="993.8" r="9.5"/><circle cx="425.2" cy="988.6" r="9.5"/><circle cx="359.9" cy="1026.5" r="9.5"/><circle cx="389.4" cy="1016.2" r="9.5"/><circle cx="448.5" cy="1028.6" r="9.5"/><circle cx="482.2" cy="976.6" r="9.5"/><circle cx="492.1" cy="1027.3" r="9.5"/><circle cx="358.9" cy="1034.1" r="9.5"/><circle cx="427.2" cy="1016.7" r="9.5"/><circle cx="459" cy="1072.7" r="9.5"/><circle cx="399.8" cy="1002.6" r="9.5"/><circle cx="397.9" cy="1073.2" r="9.5"/><circle cx="498.7" cy="1004.3" r="9.5"/><circle cx="456.4" cy="1027.4" r="9.5"/><circle cx="399.2" cy="1011.2" r="9.5"/><circle cx="416.8" cy="1048.6" r="9.5"/><circle cx="427.4" cy="1067" r="9.5"/><circle cx="398.6" cy="1035.8" r="9.5"/><circle cx="389.1" cy="1072.8" r="9.5"/><circle cx="401.4" cy="1046.4" r="9.5"/><circle cx="429.1" cy="1039.4" r="9.5"/><circle cx="422.4" cy="1072.7" r="9.5"/><circle cx="398.1" cy="1059.5" r="9.5"/><circle cx="446.4" cy="1002.7" r="9.5"/><circle cx="475.4" cy="1072.5" r="9.5"/><circle cx="381.8" cy="1029.4" r="9.5"/><circle cx="428.2" cy="1048" r="9.5"/><circle cx="375.8" cy="1021.4" r="9.5"/><circle cx="486.3" cy="995" r="9.5"/><circle cx="370.3" cy="1073" r="9.5"/>
</g>
<line x1="362" y1="1057" x2="1761.5" y2="352.5" stroke="#000" stroke-width="6.2" stroke-linecap="round"/>
<rect x="362" y="105" width="1679" height="965" fill="none" stroke="#000" stroke-width="4.6"/>
<g stroke="#000" stroke-width="3.6">
<line x1="343" y1="1070" x2="362" y2="1070"/>
<line x1="343" y1="877" x2="362" y2="877"/>
<line x1="343" y1="684" x2="362" y2="684"/>
<line x1="343" y1="491" x2="362" y2="491"/>
<line x1="343" y1="298" x2="362" y2="298"/>
<line x1="343" y1="105" x2="362" y2="105"/>
<line x1="362" y1="1070" x2="362" y2="1089"/>
<line x1="697.8" y1="1070" x2="697.8" y2="1089"/>
<line x1="1033.6" y1="1070" x2="1033.6" y2="1089"/>
<line x1="1369.4" y1="1070" x2="1369.4" y2="1089"/>
<line x1="1705.2" y1="1070" x2="1705.2" y2="1089"/>
<line x1="2041" y1="1070" x2="2041" y2="1089"/>
</g>
<g font-size="64" fill="#595959" text-anchor="end">
<text x="294" y="1089.1">0</text>
<text x="294" y="896.1">100</text>
<text x="294" y="703.1">200</text>
<text x="294" y="510.1">300</text>
<text x="294" y="317.1">400</text>
<text x="294" y="124.1">500</text>
</g>
<g font-size="64" fill="#595959" text-anchor="middle">
<text x="352.7" y="1160.6">0</text>
<text x="688.5" y="1160.6">100</text>
<text x="1024.3" y="1160.6">200</text>
<text x="1360.1" y="1160.6">300</text>
<text x="1695.9" y="1160.6">400</text>
<text x="2031.7" y="1160.6">500</text>
</g>
<text x="78" y="112.3" font-size="65.5" fill="#000">(a)</text>
<text x="1199.8" y="1246.3" font-size="61.4" font-weight="bold" fill="#000" text-anchor="middle">Precipitation observations (mm)</text>
<text transform="translate(172.3,578.3) rotate(-90) scale(1.0126,1)" font-size="61" font-weight="bold" fill="#000" text-anchor="middle">CRU precipitation (mm)</text>
<g font-size="61.4" fill="#000" text-anchor="middle">
<text x="1767.5" y="811.3"><tspan font-style="italic">r</tspan> = 0.88</text>
<text x="1767.5" y="885.6"><tspan font-style="italic">MAE</tspan> = 25.76 mm</text>
<text x="1767.5" y="959.9"><tspan font-style="italic">RMSE</tspan> = 44.82 mm</text>
<text x="1767.5" y="1034.2">Bias = -0.06</text>
</g>
</g>
<g id="panel-b">
<g fill="#000">
<circle cx="882.1" cy="1769.5" r="9.5"/><circle cx="892.4" cy="1778.9" r="9.5"/><circle cx="854.2" cy="1807.3" r="9.5"/><circle cx="863.2" cy="1821.9" r="9.5"/><circle cx="876.1" cy="1833.1" r="9.5"/><circle cx="803.8" cy="1819" r="9.5"/><circle cx="826.7" cy="1830.2" r="9.5"/><circle cx="768.1" cy="1830.9" r="9.5"/><circle cx="813" cy="1847.4" r="9.5"/><circle cx="844.3" cy="1846.5" r="9.5"/><circle cx="863.2" cy="1860.6" r="9.5"/><circle cx="872.6" cy="1880.4" r="9.5"/><circle cx="743.3" cy="1905.4" r="9.5"/><circle cx="765.1" cy="1907.9" r="9.5"/><circle cx="813.3" cy="1905.4" r="9.5"/><circle cx="829.6" cy="1900.7" r="9.5"/><circle cx="883.8" cy="1908.8" r="9.5"/><circle cx="892.4" cy="1913.1" r="9.5"/><circle cx="746.6" cy="1951.3" r="9.5"/><circle cx="890.7" cy="1932" r="9.5"/><circle cx="899.3" cy="1938.9" r="9.5"/><circle cx="871.8" cy="1952.7" r="9.5"/><circle cx="883.8" cy="1949.2" r="9.5"/><circle cx="892.4" cy="1957.8" r="9.5"/><circle cx="882.1" cy="1966.4" r="9.5"/><circle cx="892.4" cy="1975" r="9.5"/><circle cx="828.8" cy="1983.6" r="9.5"/><circle cx="852.9" cy="1980.2" r="9.5"/><circle cx="871.8" cy="1983.6" r="9.5"/><circle cx="899.3" cy="1983.6" r="9.5"/><circle cx="635.8" cy="2005.6" r="9.5"/><circle cx="635.8" cy="2130.9" r="9.5"/><circle cx="720.9" cy="2131.7" r="9.5"/><circle cx="774.1" cy="2003.4" r="9.5"/><circle cx="768.2" cy="2038.3" r="9.5"/><circle cx="764.8" cy="2059" r="9.5"/><circle cx="785.8" cy="2057.2" r="9.5"/><circle cx="799.5" cy="2056.4" r="9.5"/><circle cx="746.2" cy="2086" r="9.5"/><circle cx="813.3" cy="2073.6" r="9.5"/><circle cx="825.3" cy="2029.7" r="9.5"/><circle cx="829.6" cy="2046.9" r="9.5"/><circle cx="846" cy="2061.5" r="9.5"/><circle cx="859.7" cy="2020.3" r="9.5"/><circle cx="869.2" cy="2029.7" r="9.5"/><circle cx="866.6" cy="2041.8" r="9.5"/><circle cx="883" cy="2016" r="9.5"/><circle cx="828.8" cy="1988.4" r="9.5"/><circle cx="852.9" cy="1985" r="9.5"/><circle cx="875.2" cy="1990.2" r="9.5"/><circle cx="883.8" cy="1995.3" r="9.5"/><circle cx="899.3" cy="2007.4" r="9.5"/><circle cx="816.7" cy="2112.3" r="9.5"/><circle cx="828.8" cy="2108" r="9.5"/><circle cx="832.2" cy="2120.9" r="9.5"/><circle cx="768.6" cy="2146.4" r="9.5"/><circle cx="825.3" cy="2142.4" r="9.5"/><circle cx="774.1" cy="2167.3" r="9.5"/><circle cx="799.2" cy="2167.3" r="9.5"/><circle cx="883" cy="2190.9" r="9.5"/><circle cx="834.8" cy="2171.6" r="9.5"/><circle cx="839.1" cy="2158.7" r="9.5"/><circle cx="856.3" cy="2169.1" r="9.5"/><circle cx="852.9" cy="2153.6" r="9.5"/><circle cx="885.6" cy="2050.4" r="9.5"/><circle cx="895.9" cy="2053.8" r="9.5"/><circle cx="882.1" cy="2064.1" r="9.5"/><circle cx="892.4" cy="2071" r="9.5"/><circle cx="873.5" cy="2086.5" r="9.5"/><circle cx="883.8" cy="2081.3" r="9.5"/><circle cx="899.3" cy="2081.3" r="9.5"/><circle cx="870.1" cy="2105.4" r="9.5"/><circle cx="882.1" cy="2102" r="9.5"/><circle cx="894.2" cy="2103.7" r="9.5"/><circle cx="854.6" cy="2115.7" r="9.5"/><circle cx="864.9" cy="2119.2" r="9.5"/><circle cx="878.7" cy="2117.5" r="9.5"/><circle cx="892.4" cy="2119.2" r="9.5"/><circle cx="846" cy="2129.5" r="9.5"/><circle cx="858" cy="2131.2" r="9.5"/><circle cx="871.8" cy="2132.9" r="9.5"/><circle cx="885.6" cy="2134.7" r="9.5"/><circle cx="899.3" cy="2131.2" r="9.5"/><circle cx="864.9" cy="2145" r="9.5"/><circle cx="878.7" cy="2148.4" r="9.5"/><circle cx="892.4" cy="2150.1" r="9.5"/><circle cx="871.8" cy="2158.7" r="9.5"/><circle cx="892.4" cy="2160.5" r="9.5"/><circle cx="899.3" cy="2143.3" r="9.5"/><circle cx="908.6" cy="1991.9" r="9.5"/><circle cx="924.1" cy="1993.6" r="9.5"/><circle cx="906.9" cy="2010.8" r="9.5"/><circle cx="915.5" cy="2021.1" r="9.5"/><circle cx="937.8" cy="2012.5" r="9.5"/><circle cx="956.8" cy="1991.9" r="9.5"/><circle cx="946.4" cy="2003.9" r="9.5"/><circle cx="968.8" cy="2014.2" r="9.5"/><circle cx="984.3" cy="2182.8" r="9.5"/><circle cx="996.3" cy="2196.6" r="9.5"/><circle cx="1006.7" cy="2206.9" r="9.5"/><circle cx="1011.8" cy="2186.3" r="9.5"/><circle cx="1023.9" cy="2167.3" r="9.5"/><circle cx="1034.2" cy="2191.4" r="9.5"/><circle cx="1046.2" cy="2182.8" r="9.5"/><circle cx="1054.8" cy="2167.3" r="9.5"/><circle cx="1065.1" cy="2194.9" r="9.5"/><circle cx="1072" cy="2175.9" r="9.5"/><circle cx="1078.9" cy="2201.7" r="9.5"/><circle cx="1097.8" cy="2206.9" r="9.5"/><circle cx="1094.4" cy="2182.8" r="9.5"/><circle cx="1115" cy="2174.2" r="9.5"/><circle cx="1116.7" cy="2189.7" r="9.5"/><circle cx="1106.4" cy="2167.3" r="9.5"/><circle cx="1103" cy="2196.6" r="9.5"/><circle cx="1020.4" cy="2200" r="9.5"/><circle cx="1089.2" cy="2167.3" r="9.5"/><circle cx="910.3" cy="2157" r="9.5"/><circle cx="932.7" cy="2172.5" r="9.5"/><circle cx="920.6" cy="2167.3" r="9.5"/><circle cx="956.8" cy="2163.9" r="9.5"/><circle cx="944.7" cy="2162.2" r="9.5"/><circle cx="1168.3" cy="2065.8" r="9.5"/><circle cx="1190.7" cy="2067.6" r="9.5"/><circle cx="1175.2" cy="2086.5" r="9.5"/><circle cx="1200" cy="2052.1" r="9.5"/><circle cx="1168.3" cy="2122.6" r="9.5"/><circle cx="1171.8" cy="2136.4" r="9.5"/><circle cx="1180.4" cy="2153.6" r="9.5"/><circle cx="1173.5" cy="2182.8" r="9.5"/><circle cx="1127.1" cy="2146.7" r="9.5"/><circle cx="1189" cy="2114" r="9.5"/><circle cx="1158" cy="2108.9" r="9.5"/><circle cx="903.4" cy="1762.6" r="9.5"/><circle cx="951.6" cy="1774.6" r="9.5"/><circle cx="935.3" cy="1789.2" r="9.5"/><circle cx="924.1" cy="1807.3" r="9.5"/><circle cx="918.1" cy="1826.2" r="9.5"/><circle cx="942.1" cy="1822.8" r="9.5"/><circle cx="936.1" cy="1835.7" r="9.5"/><circle cx="946.4" cy="1830.5" r="9.5"/><circle cx="910.3" cy="1854.3" r="9.5"/><circle cx="1004.9" cy="1766.9" r="9.5"/><circle cx="992.9" cy="1770.3" r="9.5"/><circle cx="1018.7" cy="1770.3" r="9.5"/><circle cx="986" cy="1782.4" r="9.5"/><circle cx="989.4" cy="1794.4" r="9.5"/><circle cx="983.4" cy="1803" r="9.5"/><circle cx="1014.4" cy="1792.7" r="9.5"/><circle cx="1046.2" cy="1796.1" r="9.5"/><circle cx="1037.6" cy="1806.4" r="9.5"/><circle cx="1047.9" cy="1803" r="9.5"/><circle cx="974" cy="1828.8" r="9.5"/><circle cx="968.8" cy="1835.7" r="9.5"/><circle cx="1006.7" cy="1820.2" r="9.5"/><circle cx="1017" cy="1820.2" r="9.5"/><circle cx="1010.1" cy="1832.2" r="9.5"/><circle cx="1023.9" cy="1834" r="9.5"/><circle cx="1030.7" cy="1842.6" r="9.5"/><circle cx="984.3" cy="1846" r="9.5"/><circle cx="979.1" cy="1856.3" r="9.5"/><circle cx="991.2" cy="1856.3" r="9.5"/><circle cx="1003.2" cy="1861.5" r="9.5"/><circle cx="1017" cy="1859.8" r="9.5"/><circle cx="1027.3" cy="1856.3" r="9.5"/><circle cx="1066.9" cy="1811.6" r="9.5"/><circle cx="1072" cy="1825.4" r="9.5"/><circle cx="1068.6" cy="1844.3" r="9.5"/><circle cx="1061.7" cy="1840.8" r="9.5"/><circle cx="1041.1" cy="1840.8" r="9.5"/><circle cx="1042.8" cy="1852.9" r="9.5"/><circle cx="1049.7" cy="1870.1" r="9.5"/><circle cx="1034.2" cy="1873.5" r="9.5"/><circle cx="1020.4" cy="1880.4" r="9.5"/><circle cx="1003.2" cy="1877" r="9.5"/><circle cx="972.2" cy="1877" r="9.5"/><circle cx="975.7" cy="1890.7" r="9.5"/><circle cx="986" cy="1892.5" r="9.5"/><circle cx="944.7" cy="1883.9" r="9.5"/><circle cx="951.6" cy="1890.7" r="9.5"/><circle cx="922.4" cy="1892.5" r="9.5"/><circle cx="939.6" cy="1906.2" r="9.5"/><circle cx="934.4" cy="1911.4" r="9.5"/><circle cx="946.4" cy="1918.3" r="9.5"/><circle cx="958.5" cy="1911.4" r="9.5"/><circle cx="972.2" cy="1907.9" r="9.5"/><circle cx="982.6" cy="1914.8" r="9.5"/><circle cx="965.4" cy="1921.7" r="9.5"/><circle cx="1004.1" cy="1904.5" r="9.5"/><circle cx="1025.6" cy="1902.8" r="9.5"/><circle cx="1030.7" cy="1911.4" r="9.5"/><circle cx="1001.5" cy="1925.1" r="9.5"/><circle cx="900" cy="1913.1" r="9.5"/><circle cx="900" cy="1932" r="9.5"/><circle cx="927.5" cy="1937.2" r="9.5"/><circle cx="918.9" cy="1947.5" r="9.5"/><circle cx="948.2" cy="1949.2" r="9.5"/><circle cx="979.1" cy="1932" r="9.5"/><circle cx="975.7" cy="1945.8" r="9.5"/><circle cx="986" cy="1940.6" r="9.5"/><circle cx="958.5" cy="1961.3" r="9.5"/><circle cx="967.1" cy="1966.4" r="9.5"/><circle cx="975.7" cy="1973.3" r="9.5"/><circle cx="915.5" cy="1978.5" r="9.5"/><circle cx="900" cy="1954.4" r="9.5"/><circle cx="949.9" cy="1981.9" r="9.5"/><circle cx="986" cy="1966.4" r="9.5"/><circle cx="996.3" cy="1971.6" r="9.5"/><circle cx="1301.5" cy="1773.8" r="9.5"/><circle cx="1317" cy="1770.3" r="9.5"/><circle cx="1332.5" cy="1792.7" r="9.5"/><circle cx="1282.6" cy="1792.7" r="9.5"/><circle cx="1289.4" cy="1803" r="9.5"/><circle cx="1306.7" cy="1794.4" r="9.5"/><circle cx="1320.4" cy="1806.4" r="9.5"/><circle cx="1303.2" cy="1816.8" r="9.5"/><circle cx="1292.9" cy="1825.4" r="9.5"/><circle cx="1279.1" cy="1832.2" r="9.5"/><circle cx="1265.4" cy="1820.2" r="9.5"/><circle cx="1337.6" cy="1763.4" r="9.5"/><circle cx="1358.3" cy="1777.2" r="9.5"/><circle cx="1372" cy="1768.6" r="9.5"/><circle cx="1387.5" cy="1789.2" r="9.5"/><circle cx="1403" cy="1775.5" r="9.5"/><circle cx="1397.8" cy="1766.9" r="9.5"/><circle cx="1375.5" cy="1803" r="9.5"/><circle cx="1423.6" cy="1777.2" r="9.5"/><circle cx="1440.8" cy="1768.6" r="9.5"/><circle cx="1430.5" cy="1796.1" r="9.5"/><circle cx="1468.3" cy="1773.8" r="9.5"/><circle cx="1489" cy="1772" r="9.5"/><circle cx="1482.1" cy="1763.4" r="9.5"/><circle cx="1348.8" cy="1816.8" r="9.5"/><circle cx="1342.8" cy="1830.5" r="9.5"/><circle cx="1325.6" cy="1840.8" r="9.5"/><circle cx="1354.8" cy="1842.6" r="9.5"/><circle cx="1351.4" cy="1852.9" r="9.5"/><circle cx="1420.2" cy="1811.6" r="9.5"/><circle cx="1411.6" cy="1823.6" r="9.5"/><circle cx="1423.6" cy="1827.1" r="9.5"/><circle cx="1415" cy="1834" r="9.5"/><circle cx="1447.7" cy="1827.1" r="9.5"/><circle cx="1446" cy="1842.6" r="9.5"/><circle cx="1440.8" cy="1852.9" r="9.5"/><circle cx="1482.1" cy="1808.2" r="9.5"/><circle cx="1492.4" cy="1816.8" r="9.5"/><circle cx="1495.9" cy="1828.8" r="9.5"/><circle cx="1490.7" cy="1847.7" r="9.5"/><circle cx="1483.8" cy="1856.3" r="9.5"/><circle cx="1500" cy="1863.2" r="9.5"/><circle cx="1280.8" cy="1864.9" r="9.5"/><circle cx="1303.2" cy="1870.1" r="9.5"/><circle cx="1320.4" cy="1864.9" r="9.5"/><circle cx="1334.2" cy="1870.1" r="9.5"/><circle cx="1320.4" cy="1880.4" r="9.5"/><circle cx="1310.1" cy="1883.9" r="9.5"/><circle cx="1337.6" cy="1883.9" r="9.5"/><circle cx="1354.8" cy="1877" r="9.5"/><circle cx="1372" cy="1866.7" r="9.5"/><circle cx="1385.8" cy="1863.2" r="9.5"/><circle cx="1365.1" cy="1883.9" r="9.5"/><circle cx="1378.9" cy="1880.4" r="9.5"/><circle cx="1351.4" cy="1895.9" r="9.5"/><circle cx="1347.9" cy="1909.7" r="9.5"/><circle cx="1372" cy="1901.1" r="9.5"/><circle cx="1375.5" cy="1909.7" r="9.5"/><circle cx="1387.5" cy="1894.2" r="9.5"/><circle cx="1406.4" cy="1861.5" r="9.5"/><circle cx="1427.1" cy="1856.3" r="9.5"/><circle cx="1415" cy="1873.5" r="9.5"/><circle cx="1403" cy="1883.9" r="9.5"/><circle cx="1423.6" cy="1883.9" r="9.5"/><circle cx="1437.4" cy="1877" r="9.5"/><circle cx="1416.7" cy="1897.6" r="9.5"/><circle cx="1430.5" cy="1895.9" r="9.5"/><circle cx="1440.8" cy="1906.2" r="9.5"/><circle cx="1449.4" cy="1885.6" r="9.5"/><circle cx="1463.2" cy="1868.4" r="9.5"/><circle cx="1454.6" cy="1878.7" r="9.5"/><circle cx="1478.7" cy="1887.3" r="9.5"/><circle cx="1475.2" cy="1901.1" r="9.5"/><circle cx="1489" cy="1894.2" r="9.5"/><circle cx="1499.3" cy="1880.4" r="9.5"/><circle cx="1483.8" cy="1909.7" r="9.5"/><circle cx="1473.5" cy="1923.4" r="9.5"/><circle cx="1499.3" cy="1902.8" r="9.5"/><circle cx="1406.4" cy="1925.1" r="9.5"/><circle cx="1416.7" cy="1930.3" r="9.5"/><circle cx="1403" cy="1937.2" r="9.5"/><circle cx="1420.2" cy="1940.6" r="9.5"/><circle cx="1444.3" cy="1935.5" r="9.5"/><circle cx="1459.7" cy="1937.2" r="9.5"/><circle cx="1492.4" cy="1937.2" r="9.5"/><circle cx="1372" cy="1928.6" r="9.5"/><circle cx="1378.9" cy="1937.2" r="9.5"/><circle cx="1365.1" cy="1940.6" r="9.5"/><circle cx="1375.5" cy="1949.2" r="9.5"/><circle cx="1354.8" cy="1933.7" r="9.5"/><circle cx="1347.9" cy="1949.2" r="9.5"/><circle cx="1420.2" cy="1959.5" r="9.5"/><circle cx="1437.4" cy="1960.4" r="9.5"/><circle cx="1381.5" cy="1967.3" r="9.5"/><circle cx="1354" cy="1969" r="9.5"/><circle cx="1341.1" cy="1981.9" r="9.5"/><circle cx="1354.8" cy="1985" r="9.5"/><circle cx="1347.9" cy="1988.4" r="9.5"/><circle cx="1358.3" cy="1990.2" r="9.5"/><circle cx="1385.8" cy="1992.7" r="9.5"/><circle cx="1338.5" cy="2007.9" r="9.5"/><circle cx="1373.7" cy="2023.7" r="9.5"/><circle cx="1414.2" cy="2017.7" r="9.5"/><circle cx="1498.5" cy="2020.3" r="9.5"/><circle cx="1227.5" cy="2036.6" r="9.5"/><circle cx="1239.6" cy="2053.8" r="9.5"/><circle cx="1251.6" cy="2053.8" r="9.5"/><circle cx="1248.2" cy="2041.8" r="9.5"/><circle cx="1208.6" cy="2055.5" r="9.5"/><circle cx="1203.4" cy="2057.2" r="9.5"/><circle cx="1279.1" cy="2059.5" r="9.5"/><circle cx="1323" cy="2054.7" r="9.5"/><circle cx="1334.2" cy="2055.5" r="9.5"/><circle cx="1342.8" cy="2067.6" r="9.5"/><circle cx="1357.4" cy="2053.8" r="9.5"/><circle cx="1364.3" cy="2067.6" r="9.5"/><circle cx="1383.2" cy="2068.8" r="9.5"/><circle cx="1403" cy="2068.8" r="9.5"/><circle cx="1457.2" cy="2067.6" r="9.5"/><circle cx="1201.7" cy="2077.9" r="9.5"/><circle cx="1230.1" cy="2074.8" r="9.5"/><circle cx="1205.2" cy="2100.3" r="9.5"/><circle cx="1200" cy="2112.3" r="9.5"/><circle cx="1229.6" cy="2111.4" r="9.5"/><circle cx="1224.9" cy="2147.2" r="9.5"/><circle cx="1265.4" cy="2019.4" r="9.5"/><circle cx="1286" cy="2017.7" r="9.5"/><circle cx="1126.7" cy="1618.8" r="9.5"/><circle cx="1088.9" cy="1637.4" r="9.5"/><circle cx="1152" cy="1636.5" r="9.5"/><circle cx="1145.1" cy="1649.4" r="9.5"/><circle cx="1168.7" cy="1652" r="9.5"/><circle cx="1195.9" cy="1634.8" r="9.5"/><circle cx="1158.9" cy="1674.3" r="9.5"/><circle cx="1196.7" cy="1669.2" r="9.5"/><circle cx="1099.5" cy="1690.7" r="9.5"/><circle cx="1100.4" cy="1707" r="9.5"/><circle cx="1123.6" cy="1694.1" r="9.5"/><circle cx="1006.7" cy="1702.7" r="9.5"/><circle cx="1181.2" cy="1689.8" r="9.5"/><circle cx="1183.8" cy="1700.1" r="9.5"/><circle cx="1164.9" cy="1712.2" r="9.5"/><circle cx="1171.8" cy="1715.6" r="9.5"/><circle cx="1140.5" cy="1734.5" r="9.5"/><circle cx="1182.1" cy="1733.7" r="9.5"/><circle cx="1105.6" cy="1749.2" r="9.5"/><circle cx="905.2" cy="1758.6" r="9.5"/><circle cx="987.7" cy="1753.5" r="9.5"/><circle cx="1003.2" cy="1760" r="9.5"/><circle cx="1023.9" cy="1751.7" r="9.5"/><circle cx="1073.7" cy="1753.5" r="9.5"/><circle cx="1084.1" cy="1760" r="9.5"/><circle cx="1139.1" cy="1760" r="9.5"/><circle cx="1175.2" cy="1760" r="9.5"/><circle cx="1200" cy="1755.2" r="9.5"/><circle cx="1343.6" cy="1572.8" r="9.5"/><circle cx="1337.6" cy="1593.5" r="9.5"/><circle cx="1249.9" cy="1577.1" r="9.5"/><circle cx="1237.8" cy="1581.4" r="9.5"/><circle cx="1255" cy="1594.3" r="9.5"/><circle cx="1250.7" cy="1612.4" r="9.5"/><circle cx="1286" cy="1575.4" r="9.5"/><circle cx="1298.1" cy="1581.4" r="9.5"/><circle cx="1310.1" cy="1593.5" r="9.5"/><circle cx="1293.8" cy="1603.8" r="9.5"/><circle cx="1421.9" cy="1590" r="9.5"/><circle cx="1411.6" cy="1603.8" r="9.5"/><circle cx="1423.6" cy="1615.8" r="9.5"/><circle cx="1409.9" cy="1614.1" r="9.5"/><circle cx="1387.5" cy="1603.5" r="9.5"/><circle cx="1447.7" cy="1612.4" r="9.5"/><circle cx="1459.7" cy="1613.3" r="9.5"/><circle cx="1447.7" cy="1619.3" r="9.5"/><circle cx="1490.7" cy="1605.5" r="9.5"/><circle cx="1500" cy="1593.5" r="9.5"/><circle cx="1492.4" cy="1621" r="9.5"/><circle cx="1206.9" cy="1621" r="9.5"/><circle cx="1223.2" cy="1621.9" r="9.5"/><circle cx="1206.9" cy="1638.2" r="9.5"/><circle cx="1210.3" cy="1652" r="9.5"/><circle cx="1252.5" cy="1639.1" r="9.5"/><circle cx="1310.1" cy="1617.6" r="9.5"/><circle cx="1320.4" cy="1619.3" r="9.5"/><circle cx="1289.4" cy="1628.8" r="9.5"/><circle cx="1303.2" cy="1631.3" r="9.5"/><circle cx="1317" cy="1639.9" r="9.5"/><circle cx="1289.4" cy="1646.8" r="9.5"/><circle cx="1336.8" cy="1633.9" r="9.5"/><circle cx="1347.9" cy="1643.4" r="9.5"/><circle cx="1356.5" cy="1648.5" r="9.5"/><circle cx="1360.8" cy="1658.9" r="9.5"/><circle cx="1397.8" cy="1641.7" r="9.5"/><circle cx="1411.6" cy="1643.4" r="9.5"/><circle cx="1425.3" cy="1639.9" r="9.5"/><circle cx="1418.5" cy="1631.3" r="9.5"/><circle cx="1483.8" cy="1645.1" r="9.5"/><circle cx="1485.6" cy="1662.3" r="9.5"/><circle cx="1442.5" cy="1660.6" r="9.5"/><circle cx="1458" cy="1661.4" r="9.5"/><circle cx="1447.7" cy="1667.5" r="9.5"/><circle cx="1225.8" cy="1652" r="9.5"/><circle cx="1234.4" cy="1655.4" r="9.5"/><circle cx="1220.6" cy="1664" r="9.5"/><circle cx="1208.6" cy="1667.5" r="9.5"/><circle cx="1263.3" cy="1667.1" r="9.5"/><circle cx="1288.6" cy="1663.2" r="9.5"/><circle cx="1333.7" cy="1667.5" r="9.5"/><circle cx="1380.6" cy="1665.7" r="9.5"/><circle cx="1389.2" cy="1664" r="9.5"/><circle cx="1230.6" cy="1681.2" r="9.5"/><circle cx="1286.9" cy="1687.2" r="9.5"/><circle cx="1317.8" cy="1695.8" r="9.5"/><circle cx="1363.4" cy="1691.9" r="9.5"/><circle cx="1238.7" cy="1698.4" r="9.5"/><circle cx="1206.9" cy="1698.4" r="9.5"/><circle cx="1218.9" cy="1705.3" r="9.5"/><circle cx="1224.1" cy="1713.9" r="9.5"/><circle cx="1432.2" cy="1686.4" r="9.5"/><circle cx="1420.2" cy="1698.4" r="9.5"/><circle cx="1405.6" cy="1698.4" r="9.5"/><circle cx="1444.3" cy="1696.7" r="9.5"/><circle cx="1440.8" cy="1703.6" r="9.5"/><circle cx="1489" cy="1686.4" r="9.5"/><circle cx="1478.7" cy="1695" r="9.5"/><circle cx="1483.8" cy="1707" r="9.5"/><circle cx="1492.4" cy="1715.6" r="9.5"/><circle cx="1500" cy="1707" r="9.5"/><circle cx="1416.7" cy="1713.9" r="9.5"/><circle cx="1430.5" cy="1722.5" r="9.5"/><circle cx="1447.7" cy="1722.5" r="9.5"/><circle cx="1440.8" cy="1732.8" r="9.5"/><circle cx="1458" cy="1731.1" r="9.5"/><circle cx="1463.2" cy="1741.4" r="9.5"/><circle cx="1447.7" cy="1743.1" r="9.5"/><circle cx="1485.6" cy="1724.2" r="9.5"/><circle cx="1489" cy="1736.3" r="9.5"/><circle cx="1284.3" cy="1722.5" r="9.5"/><circle cx="1298.1" cy="1727.7" r="9.5"/><circle cx="1292.9" cy="1738" r="9.5"/><circle cx="1303.2" cy="1748.3" r="9.5"/><circle cx="1311.8" cy="1744.9" r="9.5"/><circle cx="1322.5" cy="1722.5" r="9.5"/><circle cx="1373.4" cy="1724.2" r="9.5"/><circle cx="1343.6" cy="1732.8" r="9.5"/><circle cx="1341.1" cy="1746.6" r="9.5"/><circle cx="1351.4" cy="1751.7" r="9.5"/><circle cx="1332.5" cy="1755.2" r="9.5"/><circle cx="1231" cy="1732.8" r="9.5"/><circle cx="1215.5" cy="1738" r="9.5"/><circle cx="1210.3" cy="1750" r="9.5"/><circle cx="1222.4" cy="1755.2" r="9.5"/><circle cx="1251.6" cy="1750.9" r="9.5"/><circle cx="1275.7" cy="1750.9" r="9.5"/><circle cx="1404.7" cy="1756.9" r="9.5"/><circle cx="1420.2" cy="1753.5" r="9.5"/><circle cx="1458" cy="1755.2" r="9.5"/><circle cx="1476.9" cy="1760" r="9.5"/><circle cx="1663.1" cy="1537.6" r="9.5"/><circle cx="1601.8" cy="1551.3" r="9.5"/><circle cx="1513.8" cy="1576.8" r="9.5"/><circle cx="1584.6" cy="1580.1" r="9.5"/><circle cx="1614.9" cy="1578" r="9.5"/><circle cx="1603.2" cy="1591.8" r="9.5"/><circle cx="1608.4" cy="1588.3" r="9.5"/><circle cx="1659.1" cy="1584.5" r="9.5"/><circle cx="1556.8" cy="1599.5" r="9.5"/><circle cx="1770.9" cy="1604.7" r="9.5"/><circle cx="1751.1" cy="1617.2" r="9.5"/><circle cx="1505.2" cy="1590" r="9.5"/><circle cx="1507.7" cy="1603.8" r="9.5"/><circle cx="1503.4" cy="1615.8" r="9.5"/><circle cx="1516.3" cy="1626.2" r="9.5"/><circle cx="1548.2" cy="1615.8" r="9.5"/><circle cx="1543" cy="1622.7" r="9.5"/><circle cx="1551.6" cy="1619.3" r="9.5"/><circle cx="1574" cy="1618.4" r="9.5"/><circle cx="1586" cy="1616.7" r="9.5"/><circle cx="1613.9" cy="1634.3" r="9.5"/><circle cx="1579.1" cy="1640.8" r="9.5"/><circle cx="1641.9" cy="1640.8" r="9.5"/><circle cx="1539.6" cy="1638.2" r="9.5"/><circle cx="1552.5" cy="1640.8" r="9.5"/><circle cx="1509.5" cy="1645.4" r="9.5"/><circle cx="1672" cy="1639.9" r="9.5"/><circle cx="1680.6" cy="1640.8" r="9.5"/><circle cx="1666" cy="1652.8" r="9.5"/><circle cx="1532.7" cy="1662.3" r="9.5"/><circle cx="1553.3" cy="1665.7" r="9.5"/><circle cx="1544.7" cy="1670.9" r="9.5"/><circle cx="1580.8" cy="1665.7" r="9.5"/><circle cx="1601.5" cy="1662.3" r="9.5"/><circle cx="1596.3" cy="1669.2" r="9.5"/><circle cx="1577.4" cy="1672.6" r="9.5"/><circle cx="1614.4" cy="1674.3" r="9.5"/><circle cx="1659.1" cy="1698.4" r="9.5"/><circle cx="1694.4" cy="1703.6" r="9.5"/><circle cx="1522.4" cy="1688.1" r="9.5"/><circle cx="1537.8" cy="1689.8" r="9.5"/><circle cx="1568.8" cy="1688.1" r="9.5"/><circle cx="1551.6" cy="1695" r="9.5"/><circle cx="1539.6" cy="1700.1" r="9.5"/><circle cx="1556.8" cy="1705.3" r="9.5"/><circle cx="1594.6" cy="1692.4" r="9.5"/><circle cx="1604.9" cy="1705.3" r="9.5"/><circle cx="1506.9" cy="1698.4" r="9.5"/><circle cx="1505.2" cy="1715.6" r="9.5"/><circle cx="1515.5" cy="1708.7" r="9.5"/><circle cx="1510.3" cy="1727.7" r="9.5"/><circle cx="1506.9" cy="1736.3" r="9.5"/><circle cx="1534.4" cy="1713.9" r="9.5"/><circle cx="1548.2" cy="1715.6" r="9.5"/><circle cx="1565.4" cy="1715.6" r="9.5"/><circle cx="1558.5" cy="1725.9" r="9.5"/><circle cx="1543" cy="1738" r="9.5"/><circle cx="1553.3" cy="1739.7" r="9.5"/><circle cx="1589.4" cy="1719.9" r="9.5"/><circle cx="1603.2" cy="1723.4" r="9.5"/><circle cx="1751.1" cy="1756" r="9.5"/><circle cx="1512" cy="1760" r="9.5"/><circle cx="1527.2" cy="1787.2" r="9.5"/><circle cx="1501.7" cy="1796.1" r="9.5"/><circle cx="1567.9" cy="1809.4" r="9.5"/><circle cx="1591.7" cy="1824.2" r="9.5"/><circle cx="1616.5" cy="1820.2" r="9.5"/><circle cx="1655.3" cy="1829.3" r="9.5"/><circle cx="1762" cy="1831.7" r="9.5"/><circle cx="1730.2" cy="1848.6" r="9.5"/><circle cx="1515.8" cy="1827.9" r="9.5"/><circle cx="1553" cy="1840" r="9.5"/><circle cx="1629.9" cy="1844.3" r="9.5"/><circle cx="1628.2" cy="1858.9" r="9.5"/><circle cx="1573.1" cy="1852.9" r="9.5"/><circle cx="1561.9" cy="1864.9" r="9.5"/><circle cx="1568.8" cy="1871.8" r="9.5"/><circle cx="1577.4" cy="1866.7" r="9.5"/><circle cx="1556.8" cy="1871.8" r="9.5"/><circle cx="1587.7" cy="1879.9" r="9.5"/><circle cx="1506.9" cy="1842.6" r="9.5"/><circle cx="1517.2" cy="1846" r="9.5"/><circle cx="1529.2" cy="1846" r="9.5"/><circle cx="1539.6" cy="1858.1" r="9.5"/><circle cx="1505.2" cy="1859.8" r="9.5"/><circle cx="1517.2" cy="1863.2" r="9.5"/><circle cx="1506.9" cy="1877" r="9.5"/><circle cx="1518.9" cy="1877" r="9.5"/><circle cx="1622.1" cy="1877.8" r="9.5"/><circle cx="1617" cy="1887.3" r="9.5"/><circle cx="1623.9" cy="1892.5" r="9.5"/><circle cx="1666" cy="1877" r="9.5"/><circle cx="1675.5" cy="1880.4" r="9.5"/><circle cx="1659.1" cy="1891.6" r="9.5"/><circle cx="1691.8" cy="1885.6" r="9.5"/><circle cx="1695.2" cy="1891.6" r="9.5"/><circle cx="1538.7" cy="1888.2" r="9.5"/><circle cx="1525.8" cy="1897.6" r="9.5"/><circle cx="1513.8" cy="1902.8" r="9.5"/><circle cx="1505.2" cy="1897.6" r="9.5"/><circle cx="1506.9" cy="1913.1" r="9.5"/><circle cx="1551.6" cy="1897.6" r="9.5"/><circle cx="1571.4" cy="1897.6" r="9.5"/><circle cx="1561.9" cy="1913.1" r="9.5"/><circle cx="1611.8" cy="1912.2" r="9.5"/><circle cx="1623" cy="1914.8" r="9.5"/><circle cx="1623.9" cy="1930.3" r="9.5"/><circle cx="1543" cy="1925.1" r="9.5"/><circle cx="1551.6" cy="1937.2" r="9.5"/><circle cx="1563.6" cy="1933.7" r="9.5"/><circle cx="1572.2" cy="1933.7" r="9.5"/><circle cx="1754.2" cy="1950.4" r="9.5"/><circle cx="1500" cy="1935.5" r="9.5"/><circle cx="1547.7" cy="2014.8" r="9.5"/><circle cx="1279" cy="1886.8" r="9.5"/><circle cx="1290.3" cy="1875.7" r="9.5"/><circle cx="1298.5" cy="1878.5" r="9.5"/><circle cx="1310" cy="1875.4" r="9.5"/><circle cx="1320.3" cy="1865.5" r="9.5"/><circle cx="1333.5" cy="1857.2" r="9.5"/><circle cx="1342.5" cy="1857.3" r="9.5"/><circle cx="1354.4" cy="1856.7" r="9.5"/><circle cx="869.6" cy="2062.2" r="9.5"/><circle cx="881.3" cy="2066.4" r="9.5"/><circle cx="891.1" cy="2056.4" r="9.5"/><circle cx="901.2" cy="2049.6" r="9.5"/><circle cx="859.9" cy="2033" r="9.5"/><circle cx="860.6" cy="2051.8" r="9.5"/><circle cx="902.7" cy="2066.1" r="9.5"/><circle cx="892.6" cy="2088.3" r="9.5"/><circle cx="910" cy="2083.6" r="9.5"/><circle cx="873.1" cy="2099.3" r="9.5"/><circle cx="883.9" cy="2122.6" r="9.5"/><circle cx="889.7" cy="2127.6" r="9.5"/><circle cx="872.5" cy="2140.7" r="9.5"/><circle cx="975.1" cy="1808.6" r="9.5"/><circle cx="1032.8" cy="1796.5" r="9.5"/><circle cx="1045.3" cy="1813.9" r="9.5"/><circle cx="1011.3" cy="1813.4" r="9.5"/><circle cx="1018.3" cy="1827.8" r="9.5"/><circle cx="1032.7" cy="1827.6" r="9.5"/><circle cx="992.7" cy="1845.7" r="9.5"/><circle cx="981.7" cy="1864.6" r="9.5"/><circle cx="1007.2" cy="1855.6" r="9.5"/><circle cx="1079.3" cy="1812.5" r="9.5"/><circle cx="1077.3" cy="1834.4" r="9.5"/><circle cx="1067" cy="1856" r="9.5"/><circle cx="1050.5" cy="1856.2" r="9.5"/><circle cx="1055.4" cy="1864.2" r="9.5"/><circle cx="1029.4" cy="1886.4" r="9.5"/><circle cx="979.4" cy="1900.5" r="9.5"/><circle cx="986.1" cy="1926.4" r="9.5"/><circle cx="1033.6" cy="1896.9" r="9.5"/><circle cx="1008.4" cy="1918.1" r="9.5"/><circle cx="973.4" cy="1954.6" r="9.5"/><circle cx="986.4" cy="1951.2" r="9.5"/><circle cx="958.9" cy="1972" r="9.5"/><circle cx="968.8" cy="1982.7" r="9.5"/><circle cx="984.3" cy="1977.9" r="9.5"/><circle cx="1303.1" cy="1764.3" r="9.5"/><circle cx="1325.8" cy="1774.1" r="9.5"/><circle cx="1341.7" cy="1772.7" r="9.5"/><circle cx="1329.1" cy="1831" r="9.5"/><circle cx="1362.7" cy="1835.9" r="9.5"/><circle cx="1358.6" cy="1849.1" r="9.5"/><circle cx="1301.2" cy="1859.5" r="9.5"/><circle cx="1347.6" cy="1868" r="9.5"/><circle cx="1355.4" cy="1889.3" r="9.5"/><circle cx="1366" cy="1894.5" r="9.5"/><circle cx="1383.6" cy="1886.9" r="9.5"/><circle cx="1417.8" cy="1862.1" r="9.5"/><circle cx="1409.4" cy="1892.6" r="9.5"/><circle cx="1410.2" cy="1937" r="9.5"/><circle cx="1453" cy="1928.6" r="9.5"/><circle cx="1387.3" cy="1935.5" r="9.5"/><circle cx="1340.8" cy="1938.6" r="9.5"/><circle cx="1328.7" cy="1979.1" r="9.5"/><circle cx="1361.4" cy="1979.9" r="9.5"/><circle cx="1350.3" cy="1976.3" r="9.5"/><circle cx="1194.3" cy="1698.8" r="9.5"/><circle cx="1195.4" cy="1746.6" r="9.5"/><circle cx="1216.4" cy="1694.3" r="9.5"/><circle cx="1278.2" cy="1731.8" r="9.5"/><circle cx="1312.9" cy="1716.4" r="9.5"/><circle cx="1332" cy="1745.4" r="9.5"/><circle cx="1220.4" cy="1744.4" r="9.5"/><circle cx="1225.1" cy="1763.5" r="9.5"/><circle cx="1342" cy="1845.6" r="9.5"/><circle cx="1359.2" cy="1867.8" r="9.5"/><circle cx="863.4" cy="2071.1" r="9.5"/><circle cx="895.3" cy="2045.8" r="9.5"/><circle cx="1073.6" cy="2061.9" r="9.5"/><circle cx="946" cy="2118.2" r="9.5"/><circle cx="1018.2" cy="2043.4" r="9.5"/><circle cx="1112.8" cy="2125.1" r="9.5"/><circle cx="1177.6" cy="2021.6" r="9.5"/><circle cx="923" cy="2111.3" r="9.5"/><circle cx="959.9" cy="2109.7" r="9.5"/><circle cx="1060.8" cy="2034.1" r="9.5"/><circle cx="984.5" cy="2095.6" r="9.5"/><circle cx="1079.1" cy="1998.9" r="9.5"/><circle cx="1165.7" cy="2007.9" r="9.5"/><circle cx="1136.5" cy="1984.1" r="9.5"/><circle cx="1144.4" cy="2006.8" r="9.5"/><circle cx="988.6" cy="2113.8" r="9.5"/><circle cx="1056.7" cy="2041.8" r="9.5"/><circle cx="1006.2" cy="2019" r="9.5"/><circle cx="1024.7" cy="2093.3" r="9.5"/><circle cx="1071.4" cy="1981.5" r="9.5"/><circle cx="1031" cy="2031.4" r="9.5"/><circle cx="1049.9" cy="2114.1" r="9.5"/><circle cx="1150.1" cy="1985.5" r="9.5"/><circle cx="1102.5" cy="2086.9" r="9.5"/><circle cx="1152.8" cy="2040" r="9.5"/><circle cx="966" cy="2158.6" r="9.5"/><circle cx="1163.8" cy="2027.8" r="9.5"/><circle cx="1034" cy="2063.7" r="9.5"/><circle cx="903.3" cy="2125.9" r="9.5"/><circle cx="1040.8" cy="2142.7" r="9.5"/><circle cx="1000.2" cy="2071.9" r="9.5"/><circle cx="976.8" cy="2132.1" r="9.5"/><circle cx="1173.8" cy="1980.8" r="9.5"/><circle cx="1064.6" cy="2051.8" r="9.5"/><circle cx="987.2" cy="2154" r="9.5"/><circle cx="1125.9" cy="2041.6" r="9.5"/><circle cx="1079.3" cy="2111.6" r="9.5"/><circle cx="1111.8" cy="2133" r="9.5"/><circle cx="980.5" cy="2160.7" r="9.5"/><circle cx="1184.3" cy="2034.2" r="9.5"/><circle cx="1176.1" cy="1998.9" r="9.5"/><circle cx="1107.2" cy="2027.6" r="9.5"/><circle cx="1172.9" cy="2015.4" r="9.5"/><circle cx="980.8" cy="2066.7" r="9.5"/><circle cx="1058.4" cy="2084.8" r="9.5"/><circle cx="1128.7" cy="2094.8" r="9.5"/><circle cx="996.3" cy="2109.4" r="9.5"/><circle cx="1028.6" cy="2011.3" r="9.5"/><circle cx="1085.9" cy="2002.7" r="9.5"/><circle cx="945.6" cy="2104.7" r="9.5"/><circle cx="1084.3" cy="2066.3" r="9.5"/><circle cx="1103.3" cy="2007.7" r="9.5"/><circle cx="1012.4" cy="2072.1" r="9.5"/><circle cx="1020.7" cy="2131.6" r="9.5"/><circle cx="1143" cy="2049.5" r="9.5"/><circle cx="1071.2" cy="2114.2" r="9.5"/><circle cx="1023" cy="2138.9" r="9.5"/><circle cx="930.1" cy="2117.7" r="9.5"/><circle cx="999.8" cy="2009.8" r="9.5"/><circle cx="1159.3" cy="1998.2" r="9.5"/><circle cx="1065" cy="2096.6" r="9.5"/><circle cx="900.1" cy="2057.1" r="9.5"/><circle cx="1045.2" cy="2061.1" r="9.5"/><circle cx="1117.3" cy="1999.2" r="9.5"/><circle cx="998.7" cy="2057.9" r="9.5"/><circle cx="937.6" cy="2068.8" r="9.5"/><circle cx="1201.8" cy="2006.7" r="9.5"/><circle cx="1020.9" cy="2065" r="9.5"/><circle cx="1103.3" cy="2125.1" r="9.5"/><circle cx="915.3" cy="2122" r="9.5"/><circle cx="1057.7" cy="2064.1" r="9.5"/><circle cx="1093.7" cy="2137.4" r="9.5"/><circle cx="1150.7" cy="2017.4" r="9.5"/><circle cx="1102.6" cy="1980.8" r="9.5"/><circle cx="958.2" cy="2134.2" r="9.5"/><circle cx="1109.1" cy="2055.3" r="9.5"/><circle cx="1121.3" cy="2006" r="9.5"/><circle cx="1014.3" cy="2150.2" r="9.5"/><circle cx="1094.1" cy="2101.3" r="9.5"/><circle cx="1033" cy="2091.4" r="9.5"/><circle cx="986" cy="2017.7" r="9.5"/><circle cx="1116" cy="2086.7" r="9.5"/><circle cx="966.6" cy="2104.4" r="9.5"/><circle cx="992.2" cy="2052.2" r="9.5"/><circle cx="1039" cy="2029.1" r="9.5"/><circle cx="1042.4" cy="2125.2" r="9.5"/><circle cx="983.8" cy="2144.1" r="9.5"/><circle cx="1196.3" cy="1982.8" r="9.5"/><circle cx="1145.8" cy="2062.1" r="9.5"/><circle cx="1030" cy="2133.2" r="9.5"/><circle cx="972.1" cy="2059.6" r="9.5"/><circle cx="976.5" cy="2084.9" r="9.5"/><circle cx="1096.4" cy="2054.9" r="9.5"/><circle cx="1026.8" cy="2055.3" r="9.5"/><circle cx="965.9" cy="2052.9" r="9.5"/><circle cx="989.8" cy="2131.2" r="9.5"/><circle cx="1022.6" cy="2103.4" r="9.5"/><circle cx="962.8" cy="2076" r="9.5"/><circle cx="1094.9" cy="2018.8" r="9.5"/><circle cx="1008" cy="2003.1" r="9.5"/><circle cx="1040.9" cy="2135.1" r="9.5"/><circle cx="1072" cy="2053.7" r="9.5"/><circle cx="957.7" cy="2052" r="9.5"/><circle cx="1046.4" cy="2007.5" r="9.5"/><circle cx="1098.3" cy="2031.2" r="9.5"/><circle cx="1124.2" cy="2085.2" r="9.5"/><circle cx="1120.2" cy="2114.8" r="9.5"/><circle cx="1010.1" cy="2102.7" r="9.5"/><circle cx="899.3" cy="2071.4" r="9.5"/><circle cx="1087.6" cy="2055.2" r="9.5"/><circle cx="1112.4" cy="2113.2" r="9.5"/><circle cx="1124.6" cy="1980.9" r="9.5"/><circle cx="975.7" cy="2145.4" r="9.5"/><circle cx="1033.6" cy="2023.5" r="9.5"/><circle cx="1008" cy="2041.8" r="9.5"/><circle cx="1152.4" cy="2109.5" r="9.5"/><circle cx="1118" cy="2069.4" r="9.5"/><circle cx="1022.7" cy="2005.8" r="9.5"/><circle cx="977.2" cy="2120.8" r="9.5"/><circle cx="920.2" cy="2132.1" r="9.5"/><circle cx="1046.2" cy="1985.7" r="9.5"/><circle cx="1100.1" cy="2062.7" r="9.5"/><circle cx="1004.5" cy="2084.3" r="9.5"/><circle cx="1078.5" cy="2143.5" r="9.5"/><circle cx="1109.3" cy="2092.1" r="9.5"/><circle cx="1009.7" cy="2134.8" r="9.5"/><circle cx="1171.3" cy="2041.5" r="9.5"/><circle cx="903.8" cy="2088.9" r="9.5"/><circle cx="1120.8" cy="2124.2" r="9.5"/><circle cx="961.7" cy="2145.4" r="9.5"/><circle cx="1018.1" cy="1993.3" r="9.5"/><circle cx="1076.6" cy="2042" r="9.5"/><circle cx="1001.2" cy="2143.1" r="9.5"/><circle cx="1067.8" cy="1990.2" r="9.5"/><circle cx="1109.4" cy="2038.9" r="9.5"/><circle cx="1126.1" cy="2105.9" r="9.5"/><circle cx="1010.8" cy="2030.8" r="9.5"/><circle cx="1185.6" cy="1992.7" r="9.5"/><circle cx="1110.2" cy="2147.8" r="9.5"/><circle cx="1065.2" cy="2043.8" r="9.5"/><circle cx="1146" cy="2122.9" r="9.5"/><circle cx="1127.7" cy="2052.7" r="9.5"/><circle cx="1133.2" cy="2034.8" r="9.5"/><circle cx="998.7" cy="2038.4" r="9.5"/><circle cx="983.1" cy="2079.7" r="9.5"/><circle cx="1089.4" cy="2114.2" r="9.5"/><circle cx="1036.4" cy="1984.1" r="9.5"/><circle cx="945.9" cy="2057.9" r="9.5"/><circle cx="916.6" cy="2155.5" r="9.5"/><circle cx="1140.6" cy="2079.1" r="9.5"/><circle cx="1090" cy="2077.2" r="9.5"/><circle cx="1102.1" cy="2151.6" r="9.5"/><circle cx="973.4" cy="2155.9" r="9.5"/><circle cx="991.7" cy="1999.7" r="9.5"/><circle cx="919.7" cy="2061.4" r="9.5"/><circle cx="934.9" cy="2135.9" r="9.5"/><circle cx="1043.8" cy="2097.2" r="9.5"/><circle cx="1039.8" cy="2050" r="9.5"/><circle cx="1118.4" cy="2024.7" r="9.5"/><circle cx="1038.9" cy="2105" r="9.5"/><circle cx="1020.9" cy="2156.3" r="9.5"/><circle cx="1019.8" cy="2076.9" r="9.5"/><circle cx="920.3" cy="2075.7" r="9.5"/><circle cx="986.8" cy="2007.7" r="9.5"/><circle cx="1009.9" cy="2053.3" r="9.5"/><circle cx="1195" cy="2010.1" r="9.5"/><circle cx="1198.8" cy="2021.4" r="9.5"/><circle cx="938" cy="2110.7" r="9.5"/><circle cx="940.9" cy="2145.4" r="9.5"/><circle cx="1014.4" cy="2117.5" r="9.5"/><circle cx="910" cy="2100.7" r="9.5"/><circle cx="990.3" cy="2031.2" r="9.5"/><circle cx="980.7" cy="2055.1" r="9.5"/><circle cx="899.8" cy="2146.1" r="9.5"/><circle cx="914.8" cy="2094.7" r="9.5"/><circle cx="1060.8" cy="2132.7" r="9.5"/><circle cx="1057.9" cy="2075.7" r="9.5"/><circle cx="1039.1" cy="2001.9" r="9.5"/><circle cx="1069.1" cy="2103.8" r="9.5"/><circle cx="1134.1" cy="2139.6" r="9.5"/><circle cx="948.7" cy="2128.9" r="9.5"/><circle cx="1032.6" cy="2044.1" r="9.5"/><circle cx="1016.9" cy="1985.3" r="9.5"/><circle cx="926.7" cy="2136.3" r="9.5"/><circle cx="1003.9" cy="2048.4" r="9.5"/><circle cx="1018" cy="2052.9" r="9.5"/><circle cx="1108.2" cy="2139.7" r="9.5"/><circle cx="936.2" cy="2055.9" r="9.5"/><circle cx="965.2" cy="2064.7" r="9.5"/><circle cx="1051.1" cy="2126.6" r="9.5"/><circle cx="1061" cy="1981.1" r="9.5"/><circle cx="956.6" cy="2126.1" r="9.5"/><circle cx="1038.2" cy="2115.2" r="9.5"/><circle cx="1045.1" cy="2044" r="9.5"/><circle cx="1098.2" cy="1999.4" r="9.5"/><circle cx="1053" cy="1981.6" r="9.5"/><circle cx="1164.8" cy="2037.6" r="9.5"/><circle cx="1103.2" cy="2101.2" r="9.5"/><circle cx="1016.2" cy="2010" r="9.5"/><circle cx="1167.2" cy="1990.1" r="9.5"/><circle cx="1190.8" cy="2003" r="9.5"/><circle cx="973.4" cy="2046.8" r="9.5"/><circle cx="1032.1" cy="2151.8" r="9.5"/><circle cx="998.5" cy="2029.1" r="9.5"/><circle cx="1193.2" cy="2036" r="9.5"/><circle cx="978" cy="2100.7" r="9.5"/><circle cx="1031.7" cy="2120" r="9.5"/><circle cx="1066.7" cy="2078" r="9.5"/><circle cx="1001.2" cy="2133.5" r="9.5"/><circle cx="946.8" cy="2139.7" r="9.5"/><circle cx="930" cy="2148.1" r="9.5"/><circle cx="963.9" cy="2121.6" r="9.5"/><circle cx="986.6" cy="2060" r="9.5"/><circle cx="912.2" cy="2071.3" r="9.5"/><circle cx="1047" cy="2015.4" r="9.5"/><circle cx="1001.1" cy="1998.3" r="9.5"/><circle cx="1092.2" cy="1985.8" r="9.5"/><circle cx="1005.2" cy="2109.5" r="9.5"/><circle cx="990.3" cy="2067.5" r="9.5"/><circle cx="1144.8" cy="2133" r="9.5"/><circle cx="971.1" cy="2114.8" r="9.5"/><circle cx="1152.3" cy="2007.5" r="9.5"/><circle cx="1137" cy="2104.8" r="9.5"/><circle cx="954.4" cy="2160" r="9.5"/><circle cx="1024.6" cy="1987.3" r="9.5"/><circle cx="1130.5" cy="2015.4" r="9.5"/><circle cx="1089.7" cy="2145.1" r="9.5"/><circle cx="1118.5" cy="2079" r="9.5"/><circle cx="1179" cy="1986.3" r="9.5"/><circle cx="1196.2" cy="1991" r="9.5"/><circle cx="942.1" cy="2077.2" r="9.5"/><circle cx="1057.9" cy="2021" r="9.5"/><circle cx="955.2" cy="2066.6" r="9.5"/><circle cx="1022.9" cy="2016.7" r="9.5"/><circle cx="1124.5" cy="2143.9" r="9.5"/><circle cx="1029.9" cy="1995.4" r="9.5"/><circle cx="1102.9" cy="2045.9" r="9.5"/><circle cx="952.5" cy="2145.8" r="9.5"/><circle cx="922.3" cy="2168.1" r="9.5"/><circle cx="900.3" cy="2138.1" r="9.5"/><circle cx="1069.6" cy="2070.8" r="9.5"/><circle cx="1011.9" cy="2089" r="9.5"/><circle cx="1025.2" cy="2071.5" r="9.5"/><circle cx="1181.3" cy="2008.2" r="9.5"/><circle cx="923.9" cy="2102.3" r="9.5"/><circle cx="1088.4" cy="2022.8" r="9.5"/><circle cx="1004.1" cy="1986.1" r="9.5"/><circle cx="939.6" cy="2158.2" r="9.5"/><circle cx="1009.4" cy="2126" r="9.5"/><circle cx="1108.3" cy="2019" r="9.5"/><circle cx="1014.3" cy="2018.2" r="9.5"/><circle cx="1052.8" cy="2103.8" r="9.5"/><circle cx="1156.1" cy="2030.3" r="9.5"/><circle cx="1127" cy="2062.2" r="9.5"/><circle cx="990.5" cy="1983" r="9.5"/><circle cx="895.7" cy="2120" r="9.5"/><circle cx="1082.2" cy="1985.8" r="9.5"/><circle cx="1087.7" cy="2131.6" r="9.5"/><circle cx="1052.3" cy="1995.3" r="9.5"/><circle cx="932.6" cy="2170" r="9.5"/><circle cx="1059.2" cy="2112.9" r="9.5"/><circle cx="1115.8" cy="2047.9" r="9.5"/><circle cx="982.2" cy="2107.4" r="9.5"/><circle cx="927.3" cy="2061.8" r="9.5"/><circle cx="1186" cy="2015.2" r="9.5"/><circle cx="994.6" cy="2022.1" r="9.5"/><circle cx="899.2" cy="2098.7" r="9.5"/><circle cx="1055.2" cy="2011.1" r="9.5"/><circle cx="1126.6" cy="2022.9" r="9.5"/><circle cx="1189.8" cy="2022.1" r="9.5"/><circle cx="910" cy="2136.4" r="9.5"/><circle cx="1022" cy="2148.7" r="9.5"/><circle cx="1036.8" cy="2011.8" r="9.5"/><circle cx="1028.9" cy="2081.3" r="9.5"/><circle cx="989.7" cy="2121.8" r="9.5"/><circle cx="1000.5" cy="2119.4" r="9.5"/><circle cx="914.1" cy="2082.8" r="9.5"/><circle cx="1017.2" cy="2124.7" r="9.5"/><circle cx="1015.7" cy="2095.9" r="9.5"/><circle cx="1126.9" cy="2070.9" r="9.5"/><circle cx="1063.2" cy="2015.3" r="9.5"/><circle cx="993.9" cy="2081.3" r="9.5"/><circle cx="1024.4" cy="2113.7" r="9.5"/><circle cx="951.8" cy="2112.3" r="9.5"/><circle cx="998.2" cy="1980.9" r="9.5"/><circle cx="1042.8" cy="1993.3" r="9.5"/><circle cx="1069" cy="1999.6" r="9.5"/><circle cx="1161.4" cy="1981.8" r="9.5"/><circle cx="1149.2" cy="1995.2" r="9.5"/><circle cx="905.8" cy="2063.6" r="9.5"/><circle cx="1040.2" cy="2076.2" r="9.5"/><circle cx="1065.3" cy="2141.1" r="9.5"/><circle cx="1091.9" cy="2064.8" r="9.5"/><circle cx="1094.1" cy="2038.3" r="9.5"/><circle cx="907.3" cy="2157.5" r="9.5"/><circle cx="927.3" cy="2125.8" r="9.5"/><circle cx="1118.9" cy="2055.9" r="9.5"/><circle cx="1178.3" cy="2045.4" r="9.5"/><circle cx="955.8" cy="2098.4" r="9.5"/><circle cx="1134.5" cy="2044.1" r="9.5"/><circle cx="968.3" cy="2141.2" r="9.5"/><circle cx="1104.1" cy="2110.6" r="9.5"/><circle cx="1110.4" cy="2002.4" r="9.5"/><circle cx="989.9" cy="2089.3" r="9.5"/><circle cx="1092.9" cy="2008" r="9.5"/><circle cx="1048.2" cy="2068.3" r="9.5"/><circle cx="1095.7" cy="2121.2" r="9.5"/><circle cx="922.8" cy="2145.3" r="9.5"/><circle cx="1161.9" cy="2020.1" r="9.5"/><circle cx="1054.8" cy="2054.1" r="9.5"/><circle cx="1002.8" cy="2096.2" r="9.5"/><circle cx="916.7" cy="2104.9" r="9.5"/><circle cx="974.4" cy="2092.9" r="9.5"/><circle cx="913.7" cy="2143.1" r="9.5"/><circle cx="1130.9" cy="2079.1" r="9.5"/><circle cx="941" cy="2131" r="9.5"/><circle cx="908.6" cy="2115.4" r="9.5"/><circle cx="1086.8" cy="2042.3" r="9.5"/><circle cx="1139.1" cy="2057.1" r="9.5"/><circle cx="896.4" cy="2081.6" r="9.5"/><circle cx="1140.9" cy="2016.1" r="9.5"/><circle cx="1086.4" cy="1992.7" r="9.5"/><circle cx="991.1" cy="2139.8" r="9.5"/><circle cx="1120.4" cy="2015.8" r="9.5"/><circle cx="964" cy="2045.1" r="9.5"/><circle cx="994" cy="1991.6" r="9.5"/><circle cx="972.8" cy="2075.6" r="9.5"/><circle cx="1164.9" cy="2047.5" r="9.5"/><circle cx="982.8" cy="2045" r="9.5"/><circle cx="936.1" cy="2124.7" r="9.5"/><circle cx="1068.3" cy="2033.9" r="9.5"/><circle cx="1144.1" cy="1980.8" r="9.5"/><circle cx="1014.1" cy="2141" r="9.5"/><circle cx="1171.2" cy="2026.1" r="9.5"/><circle cx="1020.2" cy="2085.5" r="9.5"/><circle cx="1119.7" cy="2134.8" r="9.5"/><circle cx="1119.2" cy="2033.5" r="9.5"/><circle cx="998.1" cy="2153" r="9.5"/><circle cx="968.9" cy="2132.3" r="9.5"/><circle cx="945.9" cy="2068.9" r="9.5"/><circle cx="1131" cy="2112.6" r="9.5"/><circle cx="1021.8" cy="2036.2" r="9.5"/><circle cx="1031.2" cy="2107.3" r="9.5"/><circle cx="993.4" cy="2159.6" r="9.5"/><circle cx="995.3" cy="2095.8" r="9.5"/><circle cx="1047.6" cy="2023" r="9.5"/><circle cx="1135.9" cy="2023.6" r="9.5"/><circle cx="1070.6" cy="2146.3" r="9.5"/><circle cx="952.3" cy="2077.5" r="9.5"/><circle cx="1188.1" cy="1980.7" r="9.5"/><circle cx="1013.7" cy="2109.9" r="9.5"/><circle cx="1095.8" cy="2128.7" r="9.5"/><circle cx="927.8" cy="2162" r="9.5"/><circle cx="1053.9" cy="2095.4" r="9.5"/><circle cx="1099.4" cy="2142.6" r="9.5"/><circle cx="1142.1" cy="2041.6" r="9.5"/><circle cx="1095.3" cy="2108.9" r="9.5"/><circle cx="1057.9" cy="2142.4" r="9.5"/><circle cx="1079.1" cy="2050" r="9.5"/><circle cx="1144.2" cy="2111.4" r="9.5"/><circle cx="1008.5" cy="2011.3" r="9.5"/><circle cx="1013.3" cy="2063.4" r="9.5"/><circle cx="1100.5" cy="1992.2" r="9.5"/><circle cx="953.9" cy="2058.7" r="9.5"/><circle cx="1051.4" cy="2080.2" r="9.5"/><circle cx="949.3" cy="2051.1" r="9.5"/><circle cx="1008.2" cy="1992.7" r="9.5"/><circle cx="1030.9" cy="2003.3" r="9.5"/><circle cx="942.9" cy="2166.7" r="9.5"/><circle cx="930" cy="2073.3" r="9.5"/><circle cx="1109.3" cy="2067.6" r="9.5"/><circle cx="1175.1" cy="2035" r="9.5"/><circle cx="1061.2" cy="2105.3" r="9.5"/><circle cx="1095.3" cy="2047.1" r="9.5"/><circle cx="1049.4" cy="2134.8" r="9.5"/><circle cx="1006.8" cy="2157.6" r="9.5"/><circle cx="1059.9" cy="1990.3" r="9.5"/><circle cx="990.4" cy="2044.2" r="9.5"/><circle cx="1156.6" cy="1989.4" r="9.5"/><circle cx="1030.3" cy="2140.9" r="9.5"/><circle cx="1135.2" cy="2085.8" r="9.5"/><circle cx="930.2" cy="2106.9" r="9.5"/><circle cx="1088.2" cy="2015.2" r="9.5"/><circle cx="981.9" cy="2027.6" r="9.5"/><circle cx="1078.1" cy="2074.3" r="9.5"/><circle cx="1039.2" cy="2085" r="9.5"/><circle cx="1112.3" cy="2010" r="9.5"/><circle cx="1142.3" cy="1999.5" r="9.5"/><circle cx="1151" cy="2048.3" r="9.5"/><circle cx="959.2" cy="2153.2" r="9.5"/><circle cx="1142.9" cy="1989.8" r="9.5"/><circle cx="1198.7" cy="2029.6" r="9.5"/><circle cx="1187.2" cy="2041.3" r="9.5"/><circle cx="1083.9" cy="2122.2" r="9.5"/><circle cx="949" cy="2153.5" r="9.5"/><circle cx="1011.7" cy="2080.3" r="9.5"/><circle cx="1102.2" cy="2133.8" r="9.5"/><circle cx="1202.9" cy="1996.8" r="9.5"/><circle cx="1015.8" cy="2001.7" r="9.5"/><circle cx="1039.2" cy="2036.8" r="9.5"/><circle cx="1119.3" cy="2149.4" r="9.5"/><circle cx="1145.2" cy="2071.2" r="9.5"/><circle cx="1153.3" cy="2118.1" r="9.5"/><circle cx="1110.6" cy="1994.8" r="9.5"/><circle cx="1066" cy="2059.3" r="9.5"/><circle cx="944.2" cy="2096.7" r="9.5"/><circle cx="1080.1" cy="2135.7" r="9.5"/><circle cx="1111.6" cy="2075.8" r="9.5"/><circle cx="1167" cy="1999" r="9.5"/><circle cx="908.9" cy="2149.7" r="9.5"/><circle cx="896.2" cy="2130.3" r="9.5"/><circle cx="1127.4" cy="2120.2" r="9.5"/><circle cx="1006.2" cy="2149.2" r="9.5"/><circle cx="991.1" cy="2103.4" r="9.5"/><circle cx="1095.9" cy="2093.2" r="9.5"/><circle cx="1004.7" cy="2065.5" r="9.5"/><circle cx="896.3" cy="2089.5" r="9.5"/><circle cx="915.8" cy="2163.6" r="9.5"/><circle cx="1082" cy="1973" r="9.5"/><circle cx="1057.2" cy="1907.9" r="9.5"/><circle cx="1099.5" cy="1836.1" r="9.5"/><circle cx="1141.6" cy="1800.7" r="9.5"/><circle cx="1032.3" cy="1932.3" r="9.5"/><circle cx="1117.5" cy="1942.8" r="9.5"/><circle cx="1080.5" cy="1899.6" r="9.5"/><circle cx="1089.4" cy="1769.7" r="9.5"/><circle cx="1134.2" cy="1769.6" r="9.5"/><circle cx="1106.3" cy="1810.2" r="9.5"/><circle cx="1182.2" cy="1789.5" r="9.5"/><circle cx="1048.3" cy="1956.6" r="9.5"/><circle cx="1092.2" cy="1798.8" r="9.5"/><circle cx="1151.7" cy="1879" r="9.5"/><circle cx="1123" cy="1821.4" r="9.5"/><circle cx="1160.1" cy="1819.5" r="9.5"/><circle cx="1099.5" cy="1892.8" r="9.5"/><circle cx="1148.3" cy="1918.3" r="9.5"/><circle cx="1025.2" cy="1977.7" r="9.5"/><circle cx="1193" cy="1804.2" r="9.5"/><circle cx="1046.5" cy="1927.4" r="9.5"/><circle cx="1078.4" cy="1889.5" r="9.5"/><circle cx="1201.1" cy="1961.3" r="9.5"/><circle cx="1129.4" cy="1936.7" r="9.5"/><circle cx="1020.5" cy="1968.5" r="9.5"/><circle cx="1006.3" cy="1954.7" r="9.5"/><circle cx="1091.7" cy="1860.4" r="9.5"/><circle cx="1170.3" cy="1860.4" r="9.5"/><circle cx="1070" cy="1924.6" r="9.5"/><circle cx="1168.6" cy="1842.3" r="9.5"/><circle cx="1064.1" cy="1946" r="9.5"/><circle cx="1149.4" cy="1818" r="9.5"/><circle cx="1173.2" cy="1938.1" r="9.5"/><circle cx="1100.9" cy="1860.2" r="9.5"/><circle cx="1136.4" cy="1978.2" r="9.5"/><circle cx="1193.1" cy="1828.5" r="9.5"/><circle cx="1119.4" cy="1885.1" r="9.5"/><circle cx="1121.6" cy="1833.7" r="9.5"/><circle cx="1076" cy="1915.6" r="9.5"/><circle cx="1108.6" cy="1772.6" r="9.5"/><circle cx="1122.9" cy="1849.4" r="9.5"/><circle cx="1177.4" cy="1837.6" r="9.5"/><circle cx="1116.8" cy="1902.8" r="9.5"/><circle cx="1180.4" cy="1850.2" r="9.5"/><circle cx="1187.6" cy="1878.4" r="9.5"/><circle cx="1150.5" cy="1870.7" r="9.5"/><circle cx="1080.5" cy="1933" r="9.5"/><circle cx="1112.1" cy="1954.1" r="9.5"/><circle cx="1159" cy="1918.5" r="9.5"/><circle cx="1143.5" cy="1780.2" r="9.5"/><circle cx="1070.7" cy="1968.9" r="9.5"/><circle cx="1108.9" cy="1845.3" r="9.5"/><circle cx="1190" cy="1929.6" r="9.5"/><circle cx="1030.8" cy="1941.7" r="9.5"/><circle cx="1145.6" cy="1808.1" r="9.5"/><circle cx="1130" cy="1897.6" r="9.5"/><circle cx="1074.9" cy="1879.1" r="9.5"/><circle cx="1175.6" cy="1804.7" r="9.5"/><circle cx="1083" cy="1952.8" r="9.5"/><circle cx="1131.7" cy="1812.8" r="9.5"/><circle cx="1092.8" cy="1927" r="9.5"/><circle cx="1106.4" cy="1822.4" r="9.5"/><circle cx="1058.3" cy="1975.4" r="9.5"/><circle cx="1194.8" cy="1980.2" r="9.5"/><circle cx="1089.5" cy="1984.1" r="9.5"/><circle cx="1196.9" cy="1790.9" r="9.5"/><circle cx="1109.4" cy="1920.2" r="9.5"/><circle cx="1137.1" cy="1956.9" r="9.5"/><circle cx="1185.1" cy="1831.6" r="9.5"/><circle cx="1060.4" cy="1983.4" r="9.5"/><circle cx="1130" cy="1853" r="9.5"/><circle cx="1101.3" cy="1964.8" r="9.5"/><circle cx="1013.4" cy="1975.6" r="9.5"/><circle cx="1103.3" cy="1927" r="9.5"/><circle cx="1127.7" cy="1919" r="9.5"/><circle cx="1197" cy="1835" r="9.5"/><circle cx="1091.7" cy="1818.8" r="9.5"/><circle cx="1155.1" cy="1906.3" r="9.5"/><circle cx="1200.2" cy="1871.4" r="9.5"/><circle cx="1202.6" cy="1932" r="9.5"/><circle cx="1181.5" cy="1980.9" r="9.5"/><circle cx="1122.1" cy="1807.4" r="9.5"/><circle cx="1173.4" cy="1929.5" r="9.5"/><circle cx="1177" cy="1888.6" r="9.5"/><circle cx="1174.2" cy="1874.1" r="9.5"/><circle cx="1200.5" cy="1947.4" r="9.5"/><circle cx="1199.6" cy="1780.9" r="9.5"/><circle cx="1105.3" cy="1913" r="9.5"/><circle cx="1152.4" cy="1941.5" r="9.5"/><circle cx="1196.9" cy="1969.6" r="9.5"/><circle cx="1188.5" cy="1820.3" r="9.5"/><circle cx="1111.6" cy="1856.2" r="9.5"/><circle cx="1128.4" cy="1976.4" r="9.5"/><circle cx="1060" cy="1924.3" r="9.5"/><circle cx="1154.1" cy="1790.2" r="9.5"/><circle cx="1128" cy="1866.3" r="9.5"/><circle cx="1070.1" cy="1910.8" r="9.5"/><circle cx="1136.1" cy="1820.1" r="9.5"/><circle cx="1159.9" cy="1849" r="9.5"/><circle cx="1159.9" cy="1975.5" r="9.5"/><circle cx="1034.2" cy="1951.6" r="9.5"/><circle cx="1144.8" cy="1792.3" r="9.5"/><circle cx="1154.3" cy="1860.9" r="9.5"/><circle cx="1163.7" cy="1855.6" r="9.5"/><circle cx="1156.1" cy="1831.6" r="9.5"/><circle cx="1177" cy="1956.4" r="9.5"/><circle cx="1083.2" cy="1791.5" r="9.5"/><circle cx="1119.6" cy="1951.3" r="9.5"/><circle cx="1082" cy="1985" r="9.5"/><circle cx="1188.7" cy="1795.4" r="9.5"/><circle cx="1192.4" cy="1872.1" r="9.5"/><circle cx="1184.2" cy="1919.3" r="9.5"/><circle cx="1060.7" cy="1957.3" r="9.5"/><circle cx="1142.3" cy="1844.4" r="9.5"/><circle cx="1069.6" cy="1896.8" r="9.5"/><circle cx="1041.6" cy="1975.1" r="9.5"/><circle cx="1015.1" cy="1950.6" r="9.5"/><circle cx="1201" cy="1851.2" r="9.5"/><circle cx="1170.5" cy="1964.7" r="9.5"/><circle cx="1201" cy="1811.3" r="9.5"/><circle cx="1145.5" cy="1966.2" r="9.5"/><circle cx="1139.6" cy="1831" r="9.5"/><circle cx="1153.1" cy="1928.3" r="9.5"/><circle cx="1094.8" cy="1880.8" r="9.5"/><circle cx="1081.3" cy="1871.6" r="9.5"/><circle cx="1141.1" cy="1877.4" r="9.5"/><circle cx="998.3" cy="1960.7" r="9.5"/><circle cx="1004.6" cy="1975.2" r="9.5"/><circle cx="1152.5" cy="1979.4" r="9.5"/><circle cx="1162.7" cy="1949.5" r="9.5"/><circle cx="1012.5" cy="1963.3" r="9.5"/><circle cx="1099.4" cy="1951.2" r="9.5"/><circle cx="1166.2" cy="1872.7" r="9.5"/><circle cx="1197.5" cy="1819.2" r="9.5"/><circle cx="1126.3" cy="1876.9" r="9.5"/><circle cx="1196.7" cy="1898.3" r="9.5"/><circle cx="1169.4" cy="1884.1" r="9.5"/><circle cx="1059.5" cy="1899.2" r="9.5"/><circle cx="1170.2" cy="1766.3" r="9.5"/><circle cx="1089.4" cy="1903.3" r="9.5"/><circle cx="1183.5" cy="1951.9" r="9.5"/><circle cx="1104.3" cy="1942.6" r="9.5"/><circle cx="1160.5" cy="1774.1" r="9.5"/><circle cx="1196.3" cy="1915.3" r="9.5"/><circle cx="1161" cy="1930.2" r="9.5"/><circle cx="1122.2" cy="1784.6" r="9.5"/><circle cx="1117.6" cy="1925.1" r="9.5"/><circle cx="1187.4" cy="1853.4" r="9.5"/><circle cx="1184.2" cy="1842.9" r="9.5"/><circle cx="1187" cy="1808.7" r="9.5"/><circle cx="1147.3" cy="1909.5" r="9.5"/><circle cx="1145.1" cy="1836.1" r="9.5"/><circle cx="1162.3" cy="1890.4" r="9.5"/><circle cx="1050.6" cy="1980.3" r="9.5"/><circle cx="1090.9" cy="1869.5" r="9.5"/><circle cx="1130.4" cy="1845.5" r="9.5"/><circle cx="1073.5" cy="1865.5" r="9.5"/><circle cx="1089" cy="1888.4" r="9.5"/><circle cx="1063.4" cy="1916" r="9.5"/><circle cx="1197.3" cy="1906.1" r="9.5"/><circle cx="1145.5" cy="1987.2" r="9.5"/><circle cx="1173.2" cy="1918" r="9.5"/><circle cx="1170.6" cy="1986.8" r="9.5"/><circle cx="1167.7" cy="1905" r="9.5"/><circle cx="1151" cy="1951.5" r="9.5"/><circle cx="1116.3" cy="1893.2" r="9.5"/><circle cx="1157.6" cy="1840.8" r="9.5"/><circle cx="1090.7" cy="1974.6" r="9.5"/><circle cx="1188.2" cy="1969.2" r="9.5"/><circle cx="1098.6" cy="1766.8" r="9.5"/><circle cx="1098.5" cy="1987.1" r="9.5"/><circle cx="1186.1" cy="1887.7" r="9.5"/><circle cx="1151.7" cy="1772.7" r="9.5"/><circle cx="1134.3" cy="1925.6" r="9.5"/><circle cx="1203.1" cy="1984.7" r="9.5"/><circle cx="1117.5" cy="1873.5" r="9.5"/><circle cx="1101.2" cy="1869.5" r="9.5"/><circle cx="1163.1" cy="1959.3" r="9.5"/><circle cx="1022.3" cy="1946.4" r="9.5"/><circle cx="1125.2" cy="1926.3" r="9.5"/><circle cx="1097.7" cy="1814" r="9.5"/><circle cx="1075.7" cy="1954.9" r="9.5"/><circle cx="1133.1" cy="1884.4" r="9.5"/><circle cx="1199.2" cy="1890.8" r="9.5"/><circle cx="1159.2" cy="1879.3" r="9.5"/><circle cx="1107.5" cy="1883.3" r="9.5"/><circle cx="1110.9" cy="1864.7" r="9.5"/><circle cx="1019" cy="1984.7" r="9.5"/><circle cx="1088.2" cy="1853.1" r="9.5"/><circle cx="1092.8" cy="1807.5" r="9.5"/><circle cx="1194.1" cy="1937.4" r="9.5"/><circle cx="1180.4" cy="1813.2" r="9.5"/><circle cx="1155" cy="1969.4" r="9.5"/><circle cx="1053.1" cy="1920.1" r="9.5"/><circle cx="1192.2" cy="1987.4" r="9.5"/><circle cx="1054" cy="1934.4" r="9.5"/><circle cx="1115.2" cy="1840.7" r="9.5"/><circle cx="1178.4" cy="1864" r="9.5"/><circle cx="1165.1" cy="1936.6" r="9.5"/><circle cx="1115.6" cy="1823" r="9.5"/><circle cx="1127" cy="1959" r="9.5"/><circle cx="1154.1" cy="1897.4" r="9.5"/><circle cx="1166.2" cy="1980.2" r="9.5"/><circle cx="1175.6" cy="1772.4" r="9.5"/><circle cx="1133.5" cy="1783.6" r="9.5"/><circle cx="1190.2" cy="1958.2" r="9.5"/><circle cx="1125" cy="1904.5" r="9.5"/><circle cx="1182.5" cy="1766.1" r="9.5"/><circle cx="1046.4" cy="1908.4" r="9.5"/><circle cx="1162.5" cy="1863.7" r="9.5"/><circle cx="1038.1" cy="1938" r="9.5"/><circle cx="1133.6" cy="1986.9" r="9.5"/><circle cx="1106" cy="1831.5" r="9.5"/><circle cx="1136" cy="1839.9" r="9.5"/><circle cx="1199.5" cy="1863" r="9.5"/><circle cx="1110.1" cy="1967.4" r="9.5"/><circle cx="1106.5" cy="1984.5" r="9.5"/><circle cx="1164.2" cy="1800.5" r="9.5"/><circle cx="1127.2" cy="1827.7" r="9.5"/><circle cx="1177.4" cy="1781.6" r="9.5"/><circle cx="1101.1" cy="1844.9" r="9.5"/><circle cx="1112.3" cy="1937.2" r="9.5"/><circle cx="1143.4" cy="1767.1" r="9.5"/><circle cx="1038" cy="1966.1" r="9.5"/><circle cx="1138.9" cy="1943" r="9.5"/><circle cx="1172.7" cy="1813.6" r="9.5"/><circle cx="1145.2" cy="1976.5" r="9.5"/><circle cx="1124.4" cy="1984.4" r="9.5"/><circle cx="1077.1" cy="1906.4" r="9.5"/><circle cx="1117.9" cy="1962.6" r="9.5"/><circle cx="1103.6" cy="1799.1" r="9.5"/><circle cx="1068.6" cy="1872.7" r="9.5"/><circle cx="1081.4" cy="1862.1" r="9.5"/><circle cx="1138" cy="1915.2" r="9.5"/><circle cx="1196.4" cy="1923.2" r="9.5"/><circle cx="1182.9" cy="1962" r="9.5"/><circle cx="1203.3" cy="1800.4" r="9.5"/><circle cx="1116.8" cy="1916" r="9.5"/><circle cx="1194.8" cy="1884.1" r="9.5"/><circle cx="1093.5" cy="1826.8" r="9.5"/><circle cx="1145.2" cy="1936.3" r="9.5"/><circle cx="1090.3" cy="1845.7" r="9.5"/><circle cx="1202.9" cy="1826.8" r="9.5"/><circle cx="1045.4" cy="1964.7" r="9.5"/><circle cx="1091" cy="1835.4" r="9.5"/><circle cx="1004.6" cy="1985.6" r="9.5"/><circle cx="1155" cy="1886.7" r="9.5"/><circle cx="1171.4" cy="1851.3" r="9.5"/><circle cx="1157.3" cy="1986.4" r="9.5"/><circle cx="1068.5" cy="1934.8" r="9.5"/><circle cx="1097.1" cy="1915.7" r="9.5"/><circle cx="1171" cy="1945.6" r="9.5"/><circle cx="1113.7" cy="1779.1" r="9.5"/><circle cx="1182.1" cy="1939.7" r="9.5"/><circle cx="1126.3" cy="1888.1" r="9.5"/><circle cx="1060" cy="1939.4" r="9.5"/><circle cx="1119.1" cy="1933.2" r="9.5"/><circle cx="1053.6" cy="1892.8" r="9.5"/><circle cx="1151.4" cy="1800" r="9.5"/><circle cx="1109.5" cy="1874.4" r="9.5"/><circle cx="1130.3" cy="1948.2" r="9.5"/><circle cx="1136.6" cy="1907.6" r="9.5"/><circle cx="1183.5" cy="1774.5" r="9.5"/><circle cx="1083.1" cy="1961.2" r="9.5"/><circle cx="1083.6" cy="1879.5" r="9.5"/><circle cx="1192.6" cy="1946.7" r="9.5"/><circle cx="1145.7" cy="1826" r="9.5"/><circle cx="1162.5" cy="1898.6" r="9.5"/><circle cx="1102.9" cy="1852.9" r="9.5"/><circle cx="1191.1" cy="1860" r="9.5"/><circle cx="1186.9" cy="1912.2" r="9.5"/><circle cx="1027.4" cy="1987.5" r="9.5"/><circle cx="1052" cy="1901.4" r="9.5"/><circle cx="1146.6" cy="1853.2" r="9.5"/><circle cx="1079.1" cy="1924.2" r="9.5"/><circle cx="1176.3" cy="1795.6" r="9.5"/><circle cx="1203.6" cy="1880.5" r="9.5"/><circle cx="1039.3" cy="1923.5" r="9.5"/><circle cx="1002.5" cy="1967.4" r="9.5"/><circle cx="1150.3" cy="1843.3" r="9.5"/><circle cx="1082.6" cy="1776.1" r="9.5"/><circle cx="1099.6" cy="1972.1" r="9.5"/><circle cx="1114.5" cy="1814.9" r="9.5"/><circle cx="1103.4" cy="1935.2" r="9.5"/><circle cx="1068" cy="1953.4" r="9.5"/><circle cx="1153.3" cy="1809.6" r="9.5"/><circle cx="1051.3" cy="1970.2" r="9.5"/><circle cx="1182.5" cy="1801.5" r="9.5"/><circle cx="1090.7" cy="1953.4" r="9.5"/><circle cx="1169.5" cy="1954.5" r="9.5"/><circle cx="1165.5" cy="1834.5" r="9.5"/><circle cx="1085.6" cy="1783.4" r="9.5"/><circle cx="1181.6" cy="1927.4" r="9.5"/><circle cx="1201.6" cy="1976.3" r="9.5"/><circle cx="1126.5" cy="1775.1" r="9.5"/><circle cx="1168.2" cy="1794.1" r="9.5"/><circle cx="1043" cy="1987.2" r="9.5"/><circle cx="1024" cy="1936.8" r="9.5"/><circle cx="1066.7" cy="1975.5" r="9.5"/><circle cx="1185.3" cy="1868.1" r="9.5"/><circle cx="1133.7" cy="1871.6" r="9.5"/><circle cx="1151" cy="1960.3" r="9.5"/><circle cx="1134.4" cy="1805.7" r="9.5"/><circle cx="1178.5" cy="1880.3" r="9.5"/><circle cx="1032.5" cy="1972.7" r="9.5"/><circle cx="1085.4" cy="1803.1" r="9.5"/><circle cx="1190.3" cy="1902.8" r="9.5"/><circle cx="1136.6" cy="1932.9" r="9.5"/><circle cx="1070.6" cy="1961" r="9.5"/><circle cx="1113.7" cy="1806" r="9.5"/><circle cx="1166.1" cy="1922.1" r="9.5"/><circle cx="1203.1" cy="1842.9" r="9.5"/><circle cx="1142.7" cy="1951.6" r="9.5"/><circle cx="998.3" cy="1952.4" r="9.5"/><circle cx="1107.4" cy="1890.8" r="9.5"/><circle cx="1046.2" cy="1936.2" r="9.5"/><circle cx="1164.8" cy="1912.9" r="9.5"/><circle cx="1080.6" cy="1851.3" r="9.5"/><circle cx="1203.5" cy="1901.7" r="9.5"/><circle cx="1108.7" cy="1904" r="9.5"/><circle cx="1265.9" cy="1885.2" r="9.5"/><circle cx="1307.4" cy="1920.3" r="9.5"/><circle cx="1245.3" cy="1846.8" r="9.5"/><circle cx="1221.7" cy="1979.1" r="9.5"/><circle cx="1241" cy="1867.6" r="9.5"/><circle cx="1259.2" cy="1979.4" r="9.5"/><circle cx="1219.9" cy="1820.3" r="9.5"/><circle cx="1196.2" cy="1939.3" r="9.5"/><circle cx="1210.7" cy="1979" r="9.5"/><circle cx="1317.9" cy="1977.1" r="9.5"/><circle cx="1282.6" cy="1940.9" r="9.5"/><circle cx="1277.7" cy="1931.2" r="9.5"/><circle cx="1208.4" cy="1904.9" r="9.5"/><circle cx="1224" cy="1939.7" r="9.5"/><circle cx="1330.6" cy="1948.9" r="9.5"/><circle cx="1196.1" cy="1968.2" r="9.5"/><circle cx="1259.1" cy="1881.4" r="9.5"/><circle cx="1292.9" cy="1914.8" r="9.5"/><circle cx="1240.5" cy="1947" r="9.5"/><circle cx="1328.2" cy="1973.7" r="9.5"/><circle cx="1206.9" cy="1938.6" r="9.5"/><circle cx="1227.8" cy="1826.6" r="9.5"/><circle cx="1304.4" cy="1935" r="9.5"/><circle cx="1336.5" cy="1928" r="9.5"/><circle cx="1314.2" cy="1987.7" r="9.5"/><circle cx="1335.3" cy="1955.7" r="9.5"/><circle cx="1264.3" cy="1895" r="9.5"/><circle cx="1202.8" cy="1964.6" r="9.5"/><circle cx="1323.1" cy="1984.8" r="9.5"/><circle cx="1248.6" cy="1782.3" r="9.5"/><circle cx="1216.4" cy="1937" r="9.5"/><circle cx="1252.6" cy="1955.6" r="9.5"/><circle cx="1200.6" cy="1872.1" r="9.5"/><circle cx="1260.7" cy="1947.4" r="9.5"/><circle cx="1223.6" cy="1853.7" r="9.5"/><circle cx="1281.1" cy="1924.1" r="9.5"/><circle cx="1204.4" cy="1860.6" r="9.5"/><circle cx="1199.2" cy="1772.7" r="9.5"/><circle cx="1239.2" cy="1827.6" r="9.5"/><circle cx="1227.9" cy="1836.3" r="9.5"/><circle cx="1315.2" cy="1908.5" r="9.5"/><circle cx="1246.9" cy="1900.4" r="9.5"/><circle cx="1262.7" cy="1930.7" r="9.5"/><circle cx="1196.5" cy="1931.3" r="9.5"/><circle cx="1288.2" cy="1897.3" r="9.5"/><circle cx="1249.3" cy="1963" r="9.5"/><circle cx="1198.8" cy="1781.3" r="9.5"/><circle cx="1227.3" cy="1781.4" r="9.5"/><circle cx="1279.8" cy="1952.6" r="9.5"/><circle cx="1213" cy="1809" r="9.5"/><circle cx="1231.7" cy="1847" r="9.5"/><circle cx="1258.7" cy="1921" r="9.5"/><circle cx="1219.1" cy="1846.3" r="9.5"/><circle cx="1224.5" cy="1795.3" r="9.5"/><circle cx="1276.6" cy="1916" r="9.5"/><circle cx="1196.4" cy="1910.6" r="9.5"/><circle cx="1237.3" cy="1776.3" r="9.5"/><circle cx="1216.1" cy="1970" r="9.5"/><circle cx="1195.9" cy="1954.4" r="9.5"/><circle cx="1247.7" cy="1928.4" r="9.5"/><circle cx="1249.1" cy="1982.9" r="9.5"/><circle cx="1236.9" cy="1906.2" r="9.5"/><circle cx="1252.9" cy="1790.6" r="9.5"/><circle cx="1304.8" cy="1971.2" r="9.5"/><circle cx="1322.3" cy="1958.4" r="9.5"/><circle cx="1322.8" cy="1906.5" r="9.5"/><circle cx="1290.1" cy="1964.8" r="9.5"/><circle cx="1280.6" cy="1987.7" r="9.5"/><circle cx="1313.3" cy="1958" r="9.5"/><circle cx="1226.2" cy="1803.2" r="9.5"/><circle cx="1296.8" cy="1937.7" r="9.5"/><circle cx="1222.1" cy="1902" r="9.5"/><circle cx="1262.8" cy="1911.6" r="9.5"/><circle cx="1340.1" cy="1943.4" r="9.5"/><circle cx="1295.2" cy="1945.2" r="9.5"/><circle cx="1200.8" cy="1984.3" r="9.5"/><circle cx="1240.7" cy="1976.1" r="9.5"/><circle cx="1236" cy="1961.5" r="9.5"/><circle cx="1199.3" cy="1810" r="9.5"/><circle cx="1228.6" cy="1907.5" r="9.5"/><circle cx="1211.6" cy="1831.5" r="9.5"/><circle cx="1290.1" cy="1927.4" r="9.5"/><circle cx="1231.8" cy="1983.1" r="9.5"/><circle cx="1305.7" cy="1944" r="9.5"/><circle cx="1220.3" cy="1947.3" r="9.5"/><circle cx="1268.4" cy="1968.4" r="9.5"/><circle cx="1234.1" cy="1930.2" r="9.5"/><circle cx="1247.8" cy="1885.4" r="9.5"/><circle cx="1233.2" cy="1916.5" r="9.5"/><circle cx="1278.3" cy="1908.2" r="9.5"/><circle cx="1244.8" cy="1800.4" r="9.5"/><circle cx="1201.4" cy="1796.9" r="9.5"/><circle cx="1216.6" cy="1793.1" r="9.5"/><circle cx="1224.1" cy="1932" r="9.5"/><circle cx="1203.2" cy="1951.1" r="9.5"/><circle cx="1292.2" cy="1976.5" r="9.5"/><circle cx="1261" cy="1959.9" r="9.5"/><circle cx="1204.4" cy="1916.4" r="9.5"/><circle cx="1218.1" cy="1926.3" r="9.5"/><circle cx="1248" cy="1941.5" r="9.5"/><circle cx="1226.9" cy="1812.4" r="9.5"/><circle cx="1235.8" cy="1810.6" r="9.5"/><circle cx="1250.4" cy="1974.4" r="9.5"/><circle cx="1233.7" cy="1884.7" r="9.5"/><circle cx="1328.5" cy="1915.4" r="9.5"/><circle cx="1221.3" cy="1987.6" r="9.5"/><circle cx="1252.6" cy="1801.5" r="9.5"/><circle cx="1239.8" cy="1767.6" r="9.5"/><circle cx="1212.9" cy="1951" r="9.5"/><circle cx="1272.4" cy="1984.4" r="9.5"/><circle cx="1264.1" cy="1939.2" r="9.5"/><circle cx="1300.6" cy="1927.3" r="9.5"/><circle cx="1320.1" cy="1949.9" r="9.5"/><circle cx="1195.8" cy="1885.4" r="9.5"/><circle cx="1232.2" cy="1895.6" r="9.5"/><circle cx="1334.4" cy="1936.8" r="9.5"/><circle cx="1219.6" cy="1864.6" r="9.5"/><circle cx="1236.7" cy="1858.9" r="9.5"/><circle cx="1213.7" cy="1859" r="9.5"/><circle cx="1221.9" cy="1916.7" r="9.5"/><circle cx="1327.7" cy="1929.1" r="9.5"/><circle cx="1199.9" cy="1828.2" r="9.5"/><circle cx="1214.6" cy="1879.2" r="9.5"/><circle cx="1250" cy="1892.9" r="9.5"/><circle cx="1236.5" cy="1838.7" r="9.5"/><circle cx="1272.5" cy="1949.5" r="9.5"/><circle cx="1229.3" cy="1773.3" r="9.5"/><circle cx="1278.1" cy="1977" r="9.5"/><circle cx="1243.2" cy="1835.2" r="9.5"/><circle cx="1271.8" cy="1903" r="9.5"/><circle cx="1198.7" cy="1922.4" r="9.5"/><circle cx="1210.5" cy="1927.4" r="9.5"/><circle cx="1235.1" cy="1802.2" r="9.5"/><circle cx="1253.7" cy="1934.3" r="9.5"/><circle cx="1242.3" cy="1876.5" r="9.5"/><circle cx="1290.9" cy="1956.5" r="9.5"/><circle cx="1195.8" cy="1859.5" r="9.5"/><circle cx="1269.8" cy="1933.2" r="9.5"/><circle cx="1319.1" cy="1941.5" r="9.5"/><circle cx="1251" cy="1840.3" r="9.5"/><circle cx="1211.9" cy="1866.6" r="9.5"/><circle cx="1300.9" cy="1914.1" r="9.5"/><circle cx="1242.1" cy="1956.4" r="9.5"/><circle cx="1241.8" cy="1914.3" r="9.5"/><circle cx="1223.8" cy="1960.5" r="9.5"/><circle cx="1252.6" cy="1871.7" r="9.5"/><circle cx="1241.7" cy="1891.3" r="9.5"/><circle cx="1199.1" cy="1789.1" r="9.5"/><circle cx="1251.4" cy="1772.8" r="9.5"/><circle cx="1196.3" cy="1817.3" r="9.5"/><circle cx="1244.9" cy="1856.6" r="9.5"/><circle cx="1267.1" cy="1976.3" r="9.5"/><circle cx="1230.2" cy="1947.7" r="9.5"/><circle cx="1335.3" cy="1919.7" r="9.5"/><circle cx="1270.9" cy="1921.4" r="9.5"/><circle cx="1206.1" cy="1802.8" r="9.5"/><circle cx="1278.2" cy="1961" r="9.5"/><circle cx="1224.4" cy="1878.1" r="9.5"/><circle cx="1295.3" cy="1987.5" r="9.5"/><circle cx="1285.1" cy="1981.5" r="9.5"/><circle cx="1300.2" cy="1980" r="9.5"/><circle cx="1300.4" cy="1965" r="9.5"/><circle cx="1207.8" cy="1852.6" r="9.5"/><circle cx="1218.7" cy="1803.6" r="9.5"/><circle cx="1207.7" cy="1882.4" r="9.5"/><circle cx="1330.9" cy="1964.2" r="9.5"/><circle cx="1251" cy="1914.9" r="9.5"/><circle cx="1313" cy="1936.5" r="9.5"/><circle cx="1256.7" cy="1889" r="9.5"/><circle cx="1208.9" cy="1986.9" r="9.5"/><circle cx="1218.2" cy="1784.2" r="9.5"/><circle cx="1285.6" cy="1912.3" r="9.5"/><circle cx="1281.3" cy="1968.4" r="9.5"/><circle cx="1319.2" cy="1969.1" r="9.5"/><circle cx="1219.1" cy="1909.3" r="9.5"/><circle cx="1200.8" cy="1975.2" r="9.5"/><circle cx="1237.2" cy="1939.6" r="9.5"/><circle cx="1307.8" cy="1978.7" r="9.5"/><circle cx="1245.3" cy="1808.5" r="9.5"/><circle cx="1208.4" cy="1778.5" r="9.5"/><circle cx="1210.3" cy="1962.7" r="9.5"/><circle cx="1242.3" cy="1987.5" r="9.5"/><circle cx="1287.8" cy="1886.9" r="9.5"/><circle cx="1232" cy="1789.5" r="9.5"/><circle cx="1248" cy="1863.9" r="9.5"/><circle cx="1220.4" cy="1835.2" r="9.5"/><circle cx="1327.1" cy="1941.3" r="9.5"/><circle cx="1274" cy="1883" r="9.5"/><circle cx="1253.9" cy="1833" r="9.5"/><circle cx="1273.7" cy="1941.2" r="9.5"/><circle cx="1260.5" cy="1970.9" r="9.5"/><circle cx="1240.7" cy="1922.8" r="9.5"/><circle cx="1196.5" cy="1802.6" r="9.5"/><circle cx="1231.8" cy="1766.2" r="9.5"/><circle cx="1226" cy="1923.4" r="9.5"/><circle cx="1232.6" cy="1818" r="9.5"/><circle cx="1224.5" cy="1894.8" r="9.5"/><circle cx="1208.6" cy="1874.4" r="9.5"/><circle cx="1269.9" cy="1959.1" r="9.5"/><circle cx="1289.1" cy="1937" r="9.5"/><circle cx="1264.9" cy="1985.3" r="9.5"/><circle cx="1218.3" cy="1872.6" r="9.5"/><circle cx="1197.1" cy="1902.3" r="9.5"/><circle cx="1251.4" cy="1851.1" r="9.5"/><circle cx="1234.7" cy="1981.3" r="9.5"/><circle cx="1321.7" cy="1988.2" r="9.5"/><circle cx="1249.2" cy="1986.3" r="9.5"/><circle cx="1248.3" cy="2026.2" r="9.5"/><circle cx="1259.3" cy="2006.2" r="9.5"/><circle cx="1256" cy="1995.4" r="9.5"/><circle cx="1312.3" cy="1987.2" r="9.5"/><circle cx="1291.6" cy="2008.7" r="9.5"/><circle cx="1218.3" cy="2029" r="9.5"/><circle cx="1232.8" cy="2013.6" r="9.5"/><circle cx="1204.9" cy="1986.3" r="9.5"/><circle cx="1248" cy="2002" r="9.5"/><circle cx="1210.1" cy="2021.3" r="9.5"/><circle cx="1219.8" cy="2013.7" r="9.5"/><circle cx="1204.6" cy="1994.2" r="9.5"/><circle cx="1230.9" cy="1997.5" r="9.5"/><circle cx="1222" cy="1994.4" r="9.5"/><circle cx="1216.7" cy="2002.9" r="9.5"/><circle cx="1242.1" cy="2014.1" r="9.5"/><circle cx="1224.5" cy="1981.6" r="9.5"/><circle cx="1208.9" cy="2010.1" r="9.5"/><circle cx="1276.4" cy="2015.5" r="9.5"/><circle cx="1275.6" cy="2007.5" r="9.5"/><circle cx="1240.1" cy="1994.7" r="9.5"/><circle cx="1264.3" cy="2019.1" r="9.5"/><circle cx="1306.2" cy="2001.9" r="9.5"/><circle cx="1260.3" cy="1981" r="9.5"/><circle cx="1222.8" cy="2021.9" r="9.5"/><circle cx="1252.8" cy="2016.1" r="9.5"/><circle cx="1214" cy="1985.4" r="9.5"/><circle cx="1229" cy="2027.5" r="9.5"/><circle cx="1299.1" cy="1987.6" r="9.5"/><circle cx="1266.6" cy="2002.3" r="9.5"/><circle cx="1202.7" cy="2004.3" r="9.5"/><circle cx="1239.4" cy="2005.1" r="9.5"/><circle cx="1239.7" cy="2025.4" r="9.5"/><circle cx="1230.1" cy="2005.9" r="9.5"/><circle cx="1196.9" cy="2010.7" r="9.5"/><circle cx="1299.1" cy="2005.3" r="9.5"/><circle cx="1304.5" cy="1982" r="9.5"/><circle cx="1195.6" cy="1985.9" r="9.5"/><circle cx="1198" cy="2027.2" r="9.5"/><circle cx="1229.2" cy="1989.1" r="9.5"/><circle cx="1196.2" cy="1996.3" r="9.5"/><circle cx="1241.9" cy="1984.1" r="9.5"/><circle cx="1289" cy="2015.9" r="9.5"/><circle cx="1247.8" cy="1994.2" r="9.5"/><circle cx="1205.9" cy="2029.4" r="9.5"/><circle cx="1292.7" cy="1981" r="9.5"/><circle cx="1317" cy="1981" r="9.5"/><circle cx="1198.2" cy="2019.1" r="9.5"/><circle cx="1300.9" cy="1996.2" r="9.5"/><circle cx="1212.8" cy="1995.3" r="9.5"/><circle cx="1268.9" cy="2011.2" r="9.5"/><circle cx="1298.6" cy="2013.4" r="9.5"/>
</g>
<line x1="637" y1="2167.4" x2="1771.3" y2="1668.2" stroke="#000" stroke-width="6.2" stroke-linecap="round"/>
<rect x="362" y="1381.5" width="1679" height="967.5" fill="none" stroke="#000" stroke-width="4.6"/>
<g stroke="#000" stroke-width="3.6">
<line x1="343" y1="2349" x2="362" y2="2349"/>
<line x1="343" y1="2155.5" x2="362" y2="2155.5"/>
<line x1="343" y1="1962" x2="362" y2="1962"/>
<line x1="343" y1="1768.5" x2="362" y2="1768.5"/>
<line x1="343" y1="1575" x2="362" y2="1575"/>
<line x1="343" y1="1381.5" x2="362" y2="1381.5"/>
<line x1="362" y1="2349" x2="362" y2="2368"/>
<line x1="641.833" y1="2349" x2="641.833" y2="2368"/>
<line x1="921.667" y1="2349" x2="921.667" y2="2368"/>
<line x1="1201.5" y1="2349" x2="1201.5" y2="2368"/>
<line x1="1481.33" y1="2349" x2="1481.33" y2="2368"/>
<line x1="1761.17" y1="2349" x2="1761.17" y2="2368"/>
<line x1="2041" y1="2349" x2="2041" y2="2368"/>
</g>
<g font-size="64" fill="#000" text-anchor="end">
<text x="294" y="2368.1">50</text>
<text x="294" y="2174.6">100</text>
<text x="294" y="1981.1">150</text>
<text x="294" y="1787.6">200</text>
<text x="294" y="1594.1">250</text>
<text x="294" y="1400.6">300</text>
</g>
<g font-size="64" fill="#000" text-anchor="middle">
<text x="352.7" y="2439.6">50</text>
<text x="632.533" y="2439.6">100</text>
<text x="912.367" y="2439.6">150</text>
<text x="1192.2" y="2439.6">200</text>
<text x="1472.03" y="2439.6">250</text>
<text x="1751.87" y="2439.6">300</text>
<text x="2031.7" y="2439.6">350</text>
</g>
<text x="78" y="1388.8" font-size="65.5" fill="#000">(b)</text>
<text x="1203" y="2525.3" font-size="61.4" font-weight="bold" fill="#000" text-anchor="middle">Evaporation observations (mm)</text>
<text transform="translate(172.3,1860.05) rotate(-90) scale(1.0278,1)" font-size="61" font-weight="bold" fill="#000" text-anchor="middle">CRU evaporation (mm)</text>
<g font-size="61.4" fill="#000" text-anchor="middle">
<text x="1767.5" y="2087.8"><tspan font-style="italic">r</tspan> = 0.59</text>
<text x="1767.5" y="2162.1"><tspan font-style="italic">MAE</tspan> = 41.40 mm</text>
<text x="1767.5" y="2236.4"><tspan font-style="italic">RMSE</tspan> = 48.34 mm</text>
<text x="1767.5" y="2310.7">Bias = -0.19</text>
</g>
</g>
</svg>
</body></html>
